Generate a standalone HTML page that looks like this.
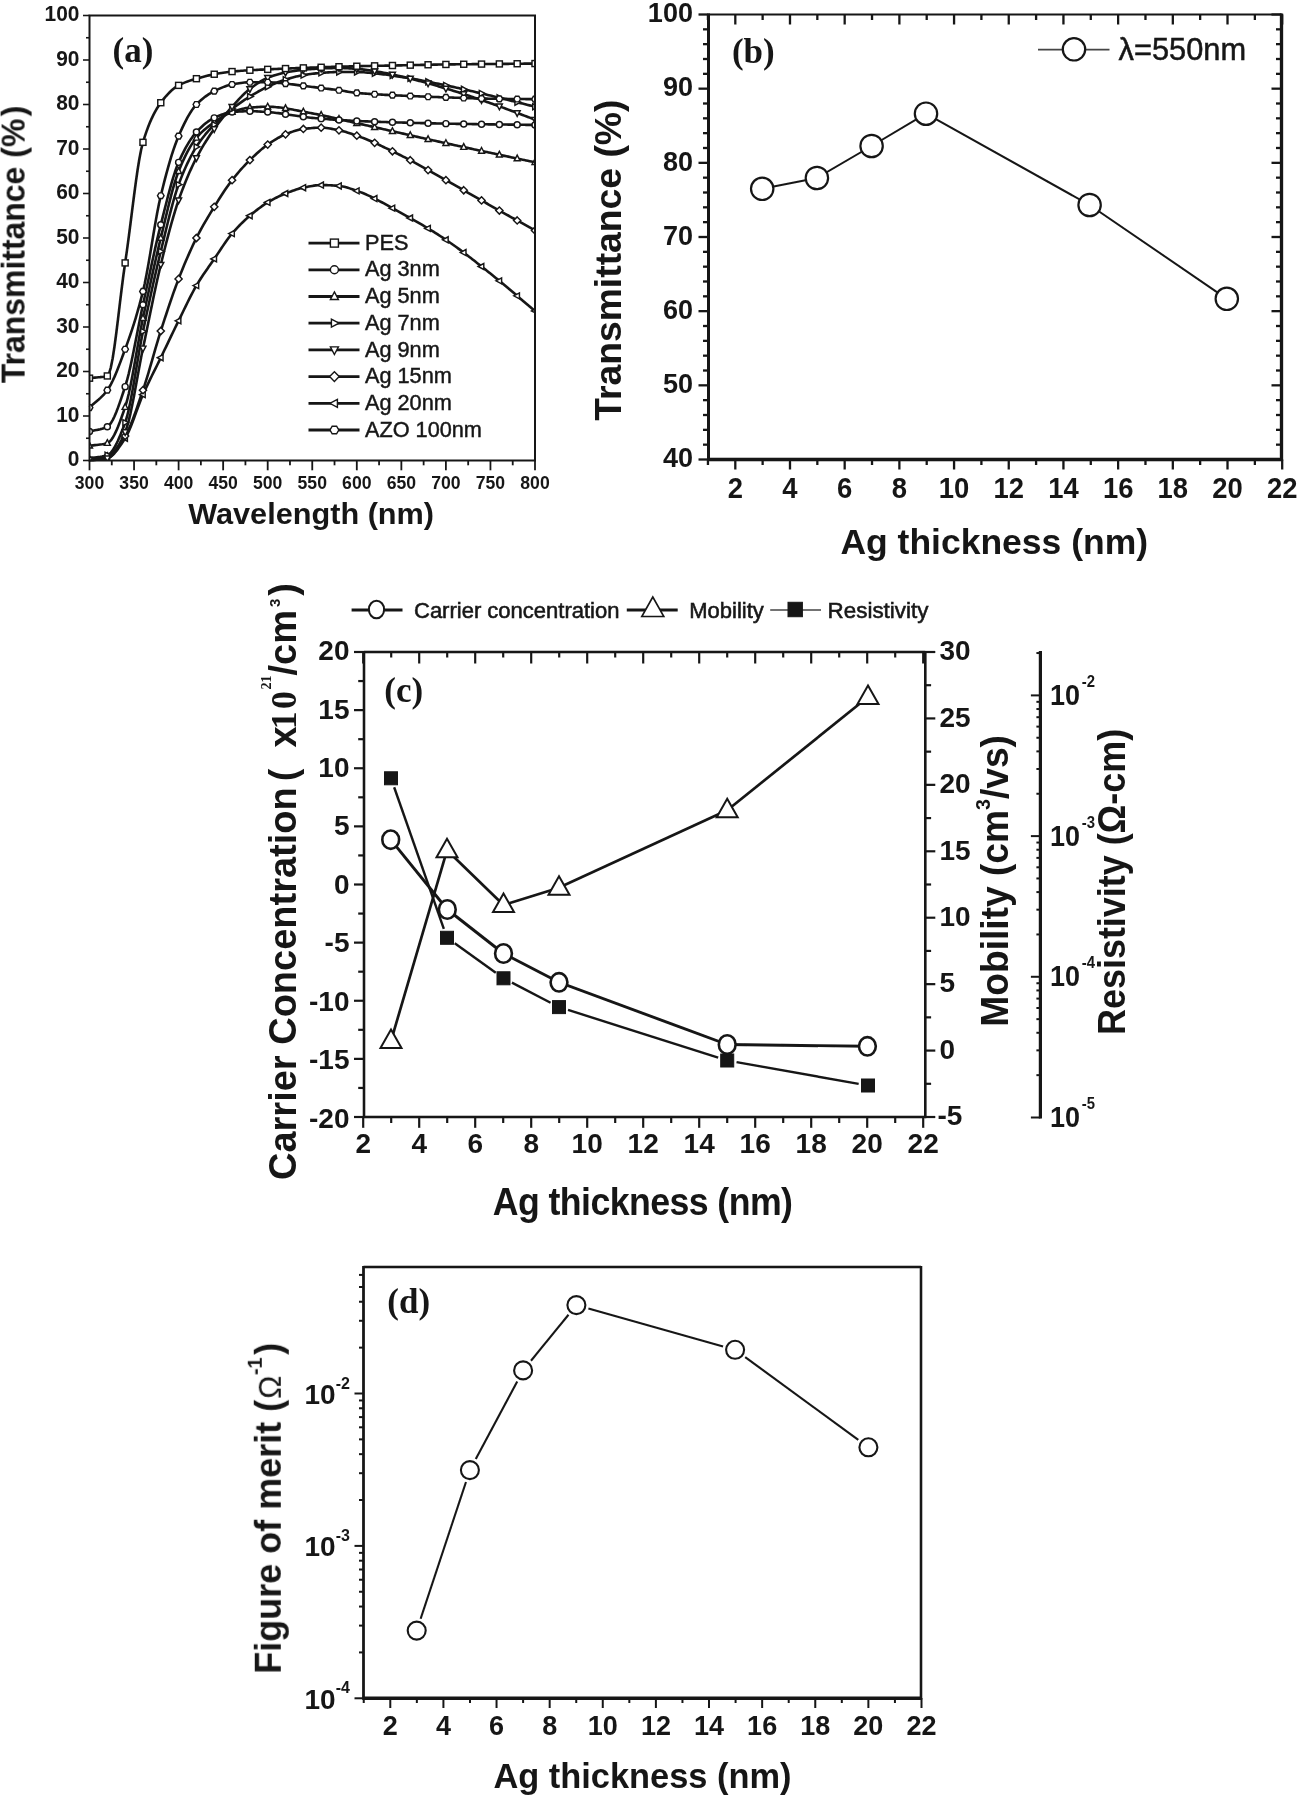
<!DOCTYPE html>
<html lang="en"><head><meta charset="utf-8"><title>Figure</title>
<style>
html,body{margin:0;padding:0;background:#fff;}
body{width:1297px;height:1800px;overflow:hidden;}
svg{display:block;}
</style></head>
<body>
<svg width="1297" height="1800" viewBox="0 0 1297 1800">
<defs><filter id="soft" x="0" y="0" width="1297" height="1800" filterUnits="userSpaceOnUse"><feGaussianBlur stdDeviation="0.6"/></filter></defs>
<rect width="1297" height="1800" fill="#fff"/>
<g id="fig" filter="url(#soft)">
<g id="panel-a">
<polyline points="89.50,460.50 91.28,460.29 93.06,460.11 94.85,459.94 96.63,459.78 98.41,459.61 100.19,459.42 101.97,459.20 103.76,458.95 105.54,458.64 107.32,458.27 109.10,457.64 110.88,456.56 112.67,455.09 114.45,453.28 116.23,451.19 118.01,448.87 119.79,446.36 121.58,443.72 123.36,441.00 125.14,438.25 126.92,435.17 128.70,431.48 130.49,427.32 132.27,422.79 134.05,418.01 135.83,413.12 137.61,408.21 139.40,403.42 141.18,398.85 142.96,394.64 144.74,390.70 146.52,386.86 148.31,383.11 150.09,379.43 151.87,375.79 153.65,372.19 155.43,368.59 157.22,364.99 159.00,361.37 160.78,357.70 162.56,354.00 164.34,350.29 166.13,346.57 167.91,342.84 169.69,339.12 171.47,335.41 173.25,331.72 175.04,328.04 176.82,324.39 178.60,320.77 180.38,317.14 182.16,313.47 183.95,309.79 185.73,306.12 187.51,302.48 189.29,298.90 191.07,295.40 192.86,292.00 194.64,288.73 196.42,285.62 198.20,282.64 199.98,279.79 201.77,277.03 203.55,274.34 205.33,271.72 207.11,269.15 208.89,266.59 210.68,264.05 212.46,261.50 214.24,258.91 216.02,256.29 217.80,253.62 219.59,250.93 221.37,248.25 223.15,245.60 224.93,242.99 226.71,240.47 228.50,238.03 230.28,235.72 232.06,233.55 233.84,231.49 235.62,229.51 237.41,227.59 239.19,225.74 240.97,223.94 242.75,222.20 244.53,220.52 246.32,218.88 248.10,217.30 249.88,215.75 251.66,214.24 253.44,212.75 255.23,211.30 257.01,209.88 258.79,208.50 260.57,207.17 262.35,205.89 264.14,204.67 265.92,203.50 267.70,202.40 269.48,201.35 271.26,200.33 273.05,199.35 274.83,198.40 276.61,197.49 278.39,196.62 280.17,195.78 281.96,194.98 283.74,194.22 285.52,193.50 287.30,192.80 289.08,192.12 290.87,191.45 292.65,190.80 294.43,190.19 296.21,189.60 297.99,189.06 299.78,188.56 301.56,188.11 303.34,187.71 305.12,187.34 306.90,186.97 308.69,186.60 310.47,186.25 312.25,185.92 314.03,185.63 315.81,185.39 317.60,185.21 319.38,185.09 321.16,185.05 322.94,185.06 324.72,185.09 326.51,185.14 328.29,185.21 330.07,185.30 331.85,185.40 333.63,185.52 335.42,185.65 337.20,185.79 338.98,185.94 340.76,186.14 342.54,186.44 344.33,186.83 346.11,187.29 347.89,187.81 349.67,188.38 351.45,188.98 353.24,189.59 355.02,190.22 356.80,190.83 358.58,191.46 360.36,192.12 362.15,192.82 363.93,193.55 365.71,194.31 367.49,195.10 369.27,195.92 371.06,196.76 372.84,197.63 374.62,198.52 376.40,199.42 378.18,200.35 379.97,201.29 381.75,202.24 383.53,203.21 385.31,204.18 387.09,205.17 388.88,206.16 390.66,207.15 392.44,208.14 394.22,209.14 396.00,210.13 397.79,211.12 399.57,212.10 401.35,213.08 403.13,214.05 404.91,215.03 406.70,216.02 408.48,217.01 410.26,218.01 412.04,219.01 413.82,220.03 415.61,221.05 417.39,222.07 419.17,223.11 420.95,224.15 422.73,225.20 424.52,226.27 426.30,227.34 428.08,228.41 429.86,229.50 431.64,230.60 433.43,231.71 435.21,232.83 436.99,233.96 438.77,235.10 440.55,236.25 442.34,237.42 444.12,238.59 445.90,239.78 447.68,240.98 449.46,242.21 451.25,243.45 453.03,244.71 454.81,245.98 456.59,247.27 458.37,248.58 460.16,249.90 461.94,251.23 463.72,252.57 465.50,253.93 467.28,255.29 469.07,256.67 470.85,258.05 472.63,259.45 474.41,260.85 476.19,262.25 477.98,263.66 479.76,265.07 481.54,266.49 483.32,267.91 485.10,269.33 486.89,270.76 488.67,272.18 490.45,273.60 492.23,275.03 494.01,276.46 495.80,277.91 497.58,279.37 499.36,280.84 501.14,282.31 502.92,283.80 504.71,285.29 506.49,286.78 508.27,288.28 510.05,289.79 511.83,291.30 513.62,292.81 515.40,294.33 517.18,295.85 518.96,297.37 520.74,298.89 522.53,300.41 524.31,301.93 526.09,303.44 527.87,304.96 529.65,306.47 531.44,307.98 533.22,309.48 535.00,310.98" fill="none" stroke="#161616" stroke-width="2.6" stroke-linejoin="round" />
<polyline points="89.50,459.61 91.28,459.28 93.06,458.98 94.85,458.70 96.63,458.42 98.41,458.14 100.19,457.83 101.97,457.48 103.76,457.08 105.54,456.61 107.32,456.05 109.10,455.25 110.88,454.09 112.67,452.59 114.45,450.81 116.23,448.77 118.01,446.51 119.79,444.07 121.58,441.48 123.36,438.79 125.14,436.02 126.92,432.95 128.70,429.34 130.49,425.28 132.27,420.84 134.05,416.08 135.83,411.09 137.61,405.93 139.40,400.68 141.18,395.41 142.96,390.19 144.74,384.85 146.52,379.19 148.31,373.30 150.09,367.24 151.87,361.06 153.65,354.86 155.43,348.68 157.22,342.60 159.00,336.68 160.78,331.00 162.56,325.47 164.34,319.97 166.13,314.50 167.91,309.10 169.69,303.78 171.47,298.55 173.25,293.43 175.04,288.45 176.82,283.61 178.60,278.94 180.38,274.40 182.16,269.95 183.95,265.59 185.73,261.33 187.51,257.16 189.29,253.11 191.07,249.16 192.86,245.32 194.64,241.60 196.42,238.00 198.20,234.52 199.98,231.15 201.77,227.88 203.55,224.70 205.33,221.60 207.11,218.56 208.89,215.58 210.68,212.64 212.46,209.73 214.24,206.85 216.02,203.98 217.80,201.13 219.59,198.30 221.37,195.51 223.15,192.77 224.93,190.08 226.71,187.47 228.50,184.94 230.28,182.49 232.06,180.15 233.84,177.89 235.62,175.70 237.41,173.56 239.19,171.49 240.97,169.47 242.75,167.50 244.53,165.58 246.32,163.72 248.10,161.90 249.88,160.12 251.66,158.38 253.44,156.66 255.23,154.96 257.01,153.31 258.79,151.69 260.57,150.13 262.35,148.63 264.14,147.19 265.92,145.83 267.70,144.55 269.48,143.33 271.26,142.13 273.05,140.97 274.83,139.84 276.61,138.77 278.39,137.74 280.17,136.78 281.96,135.88 283.74,135.06 285.52,134.31 287.30,133.62 289.08,132.93 290.87,132.26 292.65,131.63 294.43,131.03 296.21,130.49 297.99,130.00 299.78,129.58 301.56,129.23 303.34,128.98 305.12,128.76 306.90,128.56 308.69,128.37 310.47,128.20 312.25,128.04 314.03,127.90 315.81,127.79 317.60,127.71 319.38,127.66 321.16,127.64 322.94,127.68 324.72,127.80 326.51,127.99 328.29,128.24 330.07,128.53 331.85,128.86 333.63,129.21 335.42,129.58 337.20,129.95 338.98,130.31 340.76,130.69 342.54,131.12 344.33,131.59 346.11,132.10 347.89,132.65 349.67,133.21 351.45,133.81 353.24,134.41 355.02,135.03 356.80,135.65 358.58,136.28 360.36,136.94 362.15,137.61 363.93,138.31 365.71,139.02 367.49,139.75 369.27,140.50 371.06,141.26 372.84,142.04 374.62,142.83 376.40,143.63 378.18,144.44 379.97,145.27 381.75,146.11 383.53,146.95 385.31,147.80 387.09,148.66 388.88,149.53 390.66,150.40 392.44,151.27 394.22,152.15 396.00,153.03 397.79,153.91 399.57,154.79 401.35,155.68 403.13,156.56 404.91,157.46 406.70,158.38 408.48,159.31 410.26,160.24 412.04,161.19 413.82,162.15 415.61,163.11 417.39,164.09 419.17,165.07 420.95,166.06 422.73,167.05 424.52,168.05 426.30,169.06 428.08,170.06 429.86,171.07 431.64,172.08 433.43,173.10 435.21,174.11 436.99,175.12 438.77,176.13 440.55,177.14 442.34,178.15 444.12,179.15 445.90,180.15 447.68,181.15 449.46,182.15 451.25,183.15 453.03,184.16 454.81,185.17 456.59,186.18 458.37,187.20 460.16,188.22 461.94,189.23 463.72,190.25 465.50,191.27 467.28,192.29 469.07,193.31 470.85,194.34 472.63,195.36 474.41,196.38 476.19,197.40 477.98,198.42 479.76,199.44 481.54,200.46 483.32,201.47 485.10,202.49 486.89,203.50 488.67,204.51 490.45,205.51 492.23,206.52 494.01,207.52 495.80,208.53 497.58,209.53 499.36,210.53 501.14,211.53 502.92,212.52 504.71,213.52 506.49,214.52 508.27,215.51 510.05,216.51 511.83,217.51 513.62,218.50 515.40,219.49 517.18,220.49 518.96,221.48 520.74,222.48 522.53,223.47 524.31,224.46 526.09,225.46 527.87,226.45 529.65,227.45 531.44,228.44 533.22,229.44 535.00,230.44" fill="none" stroke="#161616" stroke-width="2.6" stroke-linejoin="round" />
<polyline points="89.50,445.81 91.28,445.57 93.06,445.35 94.85,445.16 96.63,444.97 98.41,444.77 100.19,444.54 101.97,444.28 103.76,443.97 105.54,443.60 107.32,443.14 109.10,442.19 110.88,440.40 112.67,437.86 114.45,434.67 116.23,430.91 118.01,426.70 119.79,422.12 121.58,417.26 123.36,412.22 125.14,407.10 126.92,401.21 128.70,393.97 130.49,385.65 132.27,376.48 134.05,366.73 135.83,356.64 137.61,346.49 139.40,336.51 141.18,326.96 142.96,318.10 144.74,309.68 146.52,301.31 148.31,292.99 150.09,284.75 151.87,276.61 153.65,268.59 155.43,260.69 157.22,252.95 159.00,245.38 160.78,238.00 162.56,230.63 164.34,223.16 166.13,215.68 167.91,208.29 169.69,201.09 171.47,194.16 173.25,187.62 175.04,181.56 176.82,176.07 178.60,171.25 180.38,166.90 182.16,162.76 183.95,158.84 185.73,155.13 187.51,151.65 189.29,148.41 191.07,145.40 192.86,142.64 194.64,140.13 196.42,137.88 198.20,135.83 199.98,133.93 201.77,132.17 203.55,130.52 205.33,128.98 207.11,127.52 208.89,126.14 210.68,124.82 212.46,123.55 214.24,122.30 216.02,121.07 217.80,119.85 219.59,118.66 221.37,117.51 223.15,116.41 224.93,115.38 226.71,114.41 228.50,113.53 230.28,112.74 232.06,112.06 233.84,111.45 235.62,110.86 237.41,110.29 239.19,109.75 240.97,109.25 242.75,108.80 244.53,108.40 246.32,108.07 248.10,107.80 249.88,107.62 251.66,107.47 253.44,107.33 255.23,107.20 257.01,107.09 258.79,106.98 260.57,106.90 262.35,106.82 264.14,106.77 265.92,106.74 267.70,106.73 269.48,106.74 271.26,106.80 273.05,106.89 274.83,107.01 276.61,107.17 278.39,107.35 280.17,107.55 281.96,107.79 283.74,108.04 285.52,108.31 287.30,108.60 289.08,108.91 290.87,109.23 292.65,109.57 294.43,109.91 296.21,110.26 297.99,110.61 299.78,110.97 301.56,111.33 303.34,111.69 305.12,112.05 306.90,112.40 308.69,112.74 310.47,113.08 312.25,113.40 314.03,113.72 315.81,114.06 317.60,114.40 319.38,114.76 321.16,115.12 322.94,115.49 324.72,115.87 326.51,116.25 328.29,116.64 330.07,117.04 331.85,117.44 333.63,117.85 335.42,118.26 337.20,118.67 338.98,119.08 340.76,119.50 342.54,119.91 344.33,120.33 346.11,120.75 347.89,121.16 349.67,121.57 351.45,121.98 353.24,122.39 355.02,122.79 356.80,123.19 358.58,123.59 360.36,123.98 362.15,124.38 363.93,124.78 365.71,125.18 367.49,125.58 369.27,125.98 371.06,126.38 372.84,126.78 374.62,127.18 376.40,127.58 378.18,127.98 379.97,128.38 381.75,128.79 383.53,129.19 385.31,129.59 387.09,130.00 388.88,130.40 390.66,130.80 392.44,131.21 394.22,131.61 396.00,132.02 397.79,132.42 399.57,132.82 401.35,133.23 403.13,133.63 404.91,134.04 406.70,134.44 408.48,134.84 410.26,135.25 412.04,135.65 413.82,136.05 415.61,136.45 417.39,136.86 419.17,137.26 420.95,137.66 422.73,138.06 424.52,138.46 426.30,138.86 428.08,139.26 429.86,139.66 431.64,140.06 433.43,140.45 435.21,140.85 436.99,141.25 438.77,141.64 440.55,142.04 442.34,142.43 444.12,142.82 445.90,143.21 447.68,143.61 449.46,144.00 451.25,144.39 453.03,144.78 454.81,145.16 456.59,145.55 458.37,145.94 460.16,146.33 461.94,146.71 463.72,147.10 465.50,147.48 467.28,147.87 469.07,148.25 470.85,148.64 472.63,149.02 474.41,149.40 476.19,149.79 477.98,150.17 479.76,150.55 481.54,150.93 483.32,151.31 485.10,151.69 486.89,152.08 488.67,152.46 490.45,152.84 492.23,153.22 494.01,153.60 495.80,153.98 497.58,154.36 499.36,154.74 501.14,155.12 502.92,155.50 504.71,155.88 506.49,156.26 508.27,156.64 510.05,157.02 511.83,157.40 513.62,157.78 515.40,158.16 517.18,158.54 518.96,158.92 520.74,159.30 522.53,159.68 524.31,160.06 526.09,160.44 527.87,160.82 529.65,161.20 531.44,161.59 533.22,161.97 535.00,162.35" fill="none" stroke="#161616" stroke-width="2.6" stroke-linejoin="round" />
<polyline points="89.50,431.57 91.28,431.12 93.06,430.72 94.85,430.35 96.63,429.98 98.41,429.61 100.19,429.19 101.97,428.71 103.76,428.15 105.54,427.48 107.32,426.68 109.10,425.34 110.88,423.12 112.67,420.14 114.45,416.49 116.23,412.29 118.01,407.64 119.79,402.64 121.58,397.40 123.36,392.03 125.14,386.63 126.92,380.71 128.70,373.82 130.49,366.14 132.27,357.84 134.05,349.09 135.83,340.07 137.61,330.95 139.40,321.91 141.18,313.12 142.96,304.75 144.74,296.58 146.52,288.30 148.31,279.96 150.09,271.62 151.87,263.34 153.65,255.16 155.43,247.15 157.22,239.36 159.00,231.84 160.78,224.65 162.56,217.60 164.34,210.50 166.13,203.46 167.91,196.54 169.69,189.83 171.47,183.42 173.25,177.38 175.04,171.80 176.82,166.76 178.60,162.35 180.38,158.38 182.16,154.61 183.95,151.05 185.73,147.69 187.51,144.55 189.29,141.62 191.07,138.91 192.86,136.41 194.64,134.14 196.42,132.09 198.20,130.20 199.98,128.39 201.77,126.69 203.55,125.08 205.33,123.58 207.11,122.19 208.89,120.92 210.68,119.76 212.46,118.74 214.24,117.85 216.02,117.04 217.80,116.24 219.59,115.49 221.37,114.78 223.15,114.12 224.93,113.53 226.71,113.02 228.50,112.60 230.28,112.28 232.06,112.06 233.84,111.92 235.62,111.77 237.41,111.65 239.19,111.53 240.97,111.43 242.75,111.34 244.53,111.27 246.32,111.22 248.10,111.19 249.88,111.18 251.66,111.19 253.44,111.23 255.23,111.29 257.01,111.37 258.79,111.47 260.57,111.58 262.35,111.70 264.14,111.82 265.92,111.94 267.70,112.06 269.48,112.20 271.26,112.35 273.05,112.52 274.83,112.72 276.61,112.92 278.39,113.15 280.17,113.38 281.96,113.63 283.74,113.88 285.52,114.15 287.30,114.42 289.08,114.69 290.87,114.97 292.65,115.24 294.43,115.52 296.21,115.79 297.99,116.06 299.78,116.33 301.56,116.58 303.34,116.83 305.12,117.06 306.90,117.28 308.69,117.49 310.47,117.68 312.25,117.85 314.03,118.01 315.81,118.17 317.60,118.33 319.38,118.48 321.16,118.63 322.94,118.78 324.72,118.92 326.51,119.07 328.29,119.21 330.07,119.34 331.85,119.48 333.63,119.61 335.42,119.73 337.20,119.86 338.98,119.98 340.76,120.09 342.54,120.20 344.33,120.31 346.11,120.42 347.89,120.52 349.67,120.62 351.45,120.71 353.24,120.80 355.02,120.88 356.80,120.96 358.58,121.04 360.36,121.12 362.15,121.19 363.93,121.27 365.71,121.34 367.49,121.41 369.27,121.48 371.06,121.55 372.84,121.62 374.62,121.69 376.40,121.75 378.18,121.82 379.97,121.88 381.75,121.94 383.53,122.00 385.31,122.07 387.09,122.12 388.88,122.18 390.66,122.24 392.44,122.30 394.22,122.35 396.00,122.41 397.79,122.46 399.57,122.51 401.35,122.57 403.13,122.62 404.91,122.67 406.70,122.72 408.48,122.77 410.26,122.81 412.04,122.86 413.82,122.91 415.61,122.95 417.39,123.00 419.17,123.04 420.95,123.09 422.73,123.13 424.52,123.17 426.30,123.21 428.08,123.25 429.86,123.30 431.64,123.33 433.43,123.37 435.21,123.41 436.99,123.45 438.77,123.49 440.55,123.53 442.34,123.56 444.12,123.60 445.90,123.63 447.68,123.67 449.46,123.70 451.25,123.74 453.03,123.77 454.81,123.80 456.59,123.84 458.37,123.87 460.16,123.90 461.94,123.93 463.72,123.96 465.50,123.99 467.28,124.02 469.07,124.05 470.85,124.07 472.63,124.10 474.41,124.13 476.19,124.15 477.98,124.18 479.76,124.21 481.54,124.23 483.32,124.26 485.10,124.28 486.89,124.31 488.67,124.33 490.45,124.36 492.23,124.38 494.01,124.41 495.80,124.43 497.58,124.45 499.36,124.48 501.14,124.50 502.92,124.53 504.71,124.55 506.49,124.57 508.27,124.60 510.05,124.62 511.83,124.65 513.62,124.67 515.40,124.69 517.18,124.72 518.96,124.74 520.74,124.77 522.53,124.79 524.31,124.82 526.09,124.84 527.87,124.87 529.65,124.89 531.44,124.92 533.22,124.94 535.00,124.97" fill="none" stroke="#161616" stroke-width="2.6" stroke-linejoin="round" />
<polyline points="89.50,458.27 91.28,457.99 93.06,457.73 94.85,457.50 96.63,457.28 98.41,457.04 100.19,456.78 101.97,456.47 103.76,456.11 105.54,455.68 107.32,455.16 109.10,454.22 110.88,452.59 112.67,450.33 114.45,447.51 116.23,444.20 118.01,440.46 119.79,436.38 121.58,432.00 123.36,427.41 125.14,422.68 126.92,417.01 128.70,409.78 130.49,401.30 132.27,391.85 134.05,381.74 135.83,371.25 137.61,360.68 139.40,350.32 141.18,340.48 142.96,331.45 144.74,322.95 146.52,314.53 148.31,306.20 150.09,297.96 151.87,289.84 153.65,281.84 155.43,273.98 157.22,266.27 159.00,258.72 160.78,251.35 162.56,244.02 164.34,236.63 166.13,229.27 167.91,222.00 169.69,214.91 171.47,208.06 173.25,201.53 175.04,195.39 176.82,189.72 178.60,184.60 180.38,179.88 182.16,175.38 183.95,171.10 185.73,167.02 187.51,163.15 189.29,159.49 191.07,156.02 192.86,152.75 194.64,149.67 196.42,146.77 198.20,144.05 199.98,141.46 201.77,139.00 203.55,136.67 205.33,134.44 207.11,132.31 208.89,130.26 210.68,128.29 212.46,126.38 214.24,124.52 216.02,122.73 217.80,121.00 219.59,119.34 221.37,117.73 223.15,116.18 224.93,114.67 226.71,113.19 228.50,111.76 230.28,110.34 232.06,108.95 233.84,107.58 235.62,106.23 237.41,104.91 239.19,103.62 240.97,102.36 242.75,101.13 244.53,99.92 246.32,98.75 248.10,97.60 249.88,96.49 251.66,95.40 253.44,94.33 255.23,93.28 257.01,92.26 258.79,91.25 260.57,90.28 262.35,89.34 264.14,88.42 265.92,87.54 267.70,86.70 269.48,85.88 271.26,85.08 273.05,84.30 274.83,83.53 276.61,82.79 278.39,82.08 280.17,81.40 281.96,80.76 283.74,80.15 285.52,79.58 287.30,79.04 289.08,78.51 290.87,78.00 292.65,77.51 294.43,77.04 296.21,76.60 297.99,76.18 299.78,75.80 301.56,75.45 303.34,75.13 305.12,74.84 306.90,74.56 308.69,74.29 310.47,74.04 312.25,73.81 314.03,73.59 315.81,73.39 317.60,73.20 319.38,73.04 321.16,72.90 322.94,72.78 324.72,72.65 326.51,72.53 328.29,72.41 330.07,72.30 331.85,72.21 333.63,72.13 335.42,72.07 337.20,72.03 338.98,72.01 340.76,72.01 342.54,72.01 344.33,72.01 346.11,72.01 347.89,72.01 349.67,72.01 351.45,72.01 353.24,72.01 355.02,72.01 356.80,72.01 358.58,72.04 360.36,72.10 362.15,72.20 363.93,72.32 365.71,72.47 367.49,72.64 369.27,72.82 371.06,73.00 372.84,73.18 374.62,73.35 376.40,73.52 378.18,73.71 379.97,73.91 381.75,74.12 383.53,74.34 385.31,74.57 387.09,74.81 388.88,75.05 390.66,75.30 392.44,75.56 394.22,75.83 396.00,76.09 397.79,76.36 399.57,76.64 401.35,76.91 403.13,77.19 404.91,77.47 406.70,77.77 408.48,78.07 410.26,78.37 412.04,78.68 413.82,79.00 415.61,79.33 417.39,79.65 419.17,79.99 420.95,80.32 422.73,80.67 424.52,81.01 426.30,81.36 428.08,81.72 429.86,82.07 431.64,82.43 433.43,82.79 435.21,83.15 436.99,83.52 438.77,83.89 440.55,84.26 442.34,84.62 444.12,84.99 445.90,85.37 447.68,85.74 449.46,86.12 451.25,86.50 453.03,86.88 454.81,87.27 456.59,87.67 458.37,88.07 460.16,88.47 461.94,88.87 463.72,89.28 465.50,89.69 467.28,90.10 469.07,90.52 470.85,90.93 472.63,91.35 474.41,91.77 476.19,92.19 477.98,92.62 479.76,93.04 481.54,93.47 483.32,93.89 485.10,94.32 486.89,94.75 488.67,95.17 490.45,95.60 492.23,96.03 494.01,96.46 495.80,96.89 497.58,97.33 499.36,97.77 501.14,98.21 502.92,98.65 504.71,99.09 506.49,99.54 508.27,99.98 510.05,100.43 511.83,100.88 513.62,101.33 515.40,101.78 517.18,102.23 518.96,102.68 520.74,103.13 522.53,103.58 524.31,104.03 526.09,104.49 527.87,104.94 529.65,105.38 531.44,105.83 533.22,106.28 535.00,106.73" fill="none" stroke="#161616" stroke-width="2.6" stroke-linejoin="round" />
<polyline points="89.50,459.61 91.28,459.49 93.06,459.38 94.85,459.29 96.63,459.19 98.41,459.09 100.19,458.98 101.97,458.85 103.76,458.70 105.54,458.51 107.32,458.27 109.10,457.69 110.88,456.50 112.67,454.75 114.45,452.50 116.23,449.83 118.01,446.77 119.79,443.41 121.58,439.79 123.36,435.97 125.14,432.02 126.92,427.19 128.70,420.88 130.49,413.34 132.27,404.85 134.05,395.65 135.83,386.02 137.61,376.21 139.40,366.49 141.18,357.12 142.96,348.36 144.74,339.90 146.52,331.28 148.31,322.58 150.09,313.86 151.87,305.18 153.65,296.61 155.43,288.21 157.22,280.05 159.00,272.19 160.78,264.70 162.56,257.45 164.34,250.30 166.13,243.27 167.91,236.40 169.69,229.72 171.47,223.25 173.25,217.03 175.04,211.09 176.82,205.46 178.60,200.18 180.38,195.16 182.16,190.34 183.95,185.70 185.73,181.24 187.51,176.95 189.29,172.82 191.07,168.86 192.86,165.06 194.64,161.41 196.42,157.90 198.20,154.53 199.98,151.30 201.77,148.19 203.55,145.19 205.33,142.29 207.11,139.48 208.89,136.76 210.68,134.10 212.46,131.51 214.24,128.98 216.02,126.49 217.80,124.07 219.59,121.72 221.37,119.42 223.15,117.18 224.93,114.99 226.71,112.85 228.50,110.77 230.28,108.72 232.06,106.73 233.84,104.75 235.62,102.78 237.41,100.84 239.19,98.93 240.97,97.06 242.75,95.26 244.53,93.54 246.32,91.90 248.10,90.35 249.88,88.93 251.66,87.57 253.44,86.25 255.23,84.96 257.01,83.73 258.79,82.55 260.57,81.44 262.35,80.40 264.14,79.44 265.92,78.57 267.70,77.80 269.48,77.10 271.26,76.43 273.05,75.81 274.83,75.22 276.61,74.67 278.39,74.16 280.17,73.68 281.96,73.24 283.74,72.83 285.52,72.46 287.30,72.11 289.08,71.78 290.87,71.47 292.65,71.18 294.43,70.90 296.21,70.64 297.99,70.40 299.78,70.18 301.56,69.98 303.34,69.79 305.12,69.61 306.90,69.44 308.69,69.28 310.47,69.13 312.25,68.98 314.03,68.85 315.81,68.73 317.60,68.62 319.38,68.53 321.16,68.45 322.94,68.39 324.72,68.32 326.51,68.26 328.29,68.20 330.07,68.15 331.85,68.10 333.63,68.06 335.42,68.03 337.20,68.02 338.98,68.01 340.76,68.02 342.54,68.06 344.33,68.12 346.11,68.20 347.89,68.30 349.67,68.40 351.45,68.52 353.24,68.64 355.02,68.77 356.80,68.90 358.58,69.04 360.36,69.21 362.15,69.40 363.93,69.61 365.71,69.83 367.49,70.08 369.27,70.33 371.06,70.59 372.84,70.86 374.62,71.12 376.40,71.40 378.18,71.70 379.97,72.00 381.75,72.33 383.53,72.66 385.31,73.01 387.09,73.36 388.88,73.73 390.66,74.10 392.44,74.48 394.22,74.87 396.00,75.26 397.79,75.66 399.57,76.06 401.35,76.46 403.13,76.87 404.91,77.29 406.70,77.71 408.48,78.15 410.26,78.58 412.04,79.03 413.82,79.48 415.61,79.94 417.39,80.41 419.17,80.88 420.95,81.36 422.73,81.84 424.52,82.33 426.30,82.82 428.08,83.32 429.86,83.82 431.64,84.32 433.43,84.83 435.21,85.35 436.99,85.86 438.77,86.38 440.55,86.90 442.34,87.43 444.12,87.95 445.90,88.48 447.68,89.01 449.46,89.55 451.25,90.10 453.03,90.65 454.81,91.20 456.59,91.76 458.37,92.33 460.16,92.90 461.94,93.48 463.72,94.06 465.50,94.65 467.28,95.24 469.07,95.83 470.85,96.43 472.63,97.03 474.41,97.63 476.19,98.24 477.98,98.85 479.76,99.46 481.54,100.07 483.32,100.69 485.10,101.31 486.89,101.92 488.67,102.54 490.45,103.17 492.23,103.79 494.01,104.42 495.80,105.05 497.58,105.69 499.36,106.34 501.14,106.99 502.92,107.64 504.71,108.29 506.49,108.95 508.27,109.62 510.05,110.28 511.83,110.95 513.62,111.61 515.40,112.28 517.18,112.95 518.96,113.62 520.74,114.30 522.53,114.97 524.31,115.64 526.09,116.31 527.87,116.98 529.65,117.64 531.44,118.31 533.22,118.97 535.00,119.63" fill="none" stroke="#161616" stroke-width="2.6" stroke-linejoin="round" />
<polyline points="89.50,407.55 91.28,405.87 93.06,404.30 94.85,402.78 96.63,401.28 98.41,399.75 100.19,398.14 101.97,396.43 103.76,394.56 105.54,392.49 107.32,390.19 109.10,387.50 110.88,384.35 112.67,380.78 114.45,376.87 116.23,372.67 118.01,368.23 119.79,363.61 121.58,358.87 123.36,354.06 125.14,349.25 126.92,344.40 128.70,339.40 130.49,334.25 132.27,328.90 134.05,323.34 135.83,317.54 137.61,311.47 139.40,305.11 141.18,298.43 142.96,291.40 144.74,283.54 146.52,274.57 148.31,264.76 150.09,254.39 151.87,243.73 153.65,233.06 155.43,222.65 157.22,212.77 159.00,203.71 160.78,195.73 162.56,188.48 164.34,181.44 166.13,174.65 167.91,168.12 169.69,161.89 171.47,155.98 173.25,150.42 175.04,145.23 176.82,140.45 178.60,136.09 180.38,132.03 182.16,128.12 183.95,124.38 185.73,120.83 187.51,117.48 189.29,114.36 191.07,111.48 192.86,108.87 194.64,106.53 196.42,104.50 198.20,102.69 199.98,100.99 201.77,99.42 203.55,97.95 205.33,96.59 207.11,95.33 208.89,94.16 210.68,93.08 212.46,92.08 214.24,91.15 216.02,90.27 217.80,89.42 219.59,88.61 221.37,87.84 223.15,87.12 224.93,86.45 226.71,85.85 228.50,85.31 230.28,84.85 232.06,84.48 233.84,84.14 235.62,83.82 237.41,83.50 239.19,83.21 240.97,82.95 242.75,82.71 244.53,82.52 246.32,82.37 248.10,82.28 249.88,82.25 251.66,82.25 253.44,82.25 255.23,82.25 257.01,82.25 258.79,82.25 260.57,82.25 262.35,82.25 264.14,82.25 265.92,82.25 267.70,82.25 269.48,82.27 271.26,82.34 273.05,82.43 274.83,82.56 276.61,82.71 278.39,82.87 280.17,83.05 281.96,83.23 283.74,83.41 285.52,83.58 287.30,83.76 289.08,83.96 290.87,84.17 292.65,84.39 294.43,84.63 296.21,84.87 297.99,85.11 299.78,85.35 301.56,85.58 303.34,85.81 305.12,86.03 306.90,86.25 308.69,86.48 310.47,86.70 312.25,86.92 314.03,87.14 315.81,87.37 317.60,87.59 319.38,87.81 321.16,88.04 322.94,88.26 324.72,88.47 326.51,88.69 328.29,88.91 330.07,89.12 331.85,89.34 333.63,89.56 335.42,89.79 337.20,90.02 338.98,90.26 340.76,90.52 342.54,90.80 344.33,91.09 346.11,91.39 347.89,91.70 349.67,91.99 351.45,92.27 353.24,92.52 355.02,92.75 356.80,92.93 358.58,93.09 360.36,93.24 362.15,93.39 363.93,93.53 365.71,93.66 367.49,93.79 369.27,93.91 371.06,94.03 372.84,94.14 374.62,94.25 376.40,94.35 378.18,94.46 379.97,94.55 381.75,94.65 383.53,94.74 385.31,94.83 387.09,94.92 388.88,95.01 390.66,95.09 392.44,95.18 394.22,95.26 396.00,95.35 397.79,95.43 399.57,95.52 401.35,95.60 403.13,95.68 404.91,95.77 406.70,95.85 408.48,95.93 410.26,96.01 412.04,96.09 413.82,96.16 415.61,96.24 417.39,96.31 419.17,96.39 420.95,96.46 422.73,96.53 424.52,96.60 426.30,96.67 428.08,96.74 429.86,96.81 431.64,96.87 433.43,96.94 435.21,97.00 436.99,97.07 438.77,97.13 440.55,97.19 442.34,97.26 444.12,97.32 445.90,97.38 447.68,97.44 449.46,97.50 451.25,97.57 453.03,97.63 454.81,97.69 456.59,97.76 458.37,97.82 460.16,97.88 461.94,97.94 463.72,98.01 465.50,98.07 467.28,98.13 469.07,98.18 470.85,98.24 472.63,98.30 474.41,98.35 476.19,98.40 477.98,98.45 479.76,98.50 481.54,98.54 483.32,98.58 485.10,98.62 486.89,98.65 488.67,98.69 490.45,98.71 492.23,98.74 494.01,98.77 495.80,98.79 497.58,98.81 499.36,98.83 501.14,98.85 502.92,98.87 504.71,98.89 506.49,98.91 508.27,98.93 510.05,98.94 511.83,98.96 513.62,98.97 515.40,98.99 517.18,99.00 518.96,99.02 520.74,99.03 522.53,99.05 524.31,99.06 526.09,99.08 527.87,99.09 529.65,99.11 531.44,99.13 533.22,99.14 535.00,99.16" fill="none" stroke="#161616" stroke-width="2.6" stroke-linejoin="round" />
<polyline points="89.50,378.18 91.28,377.97 93.06,377.80 94.85,377.64 96.63,377.49 98.41,377.33 100.19,377.15 101.97,376.93 103.76,376.67 105.54,376.35 107.32,375.95 109.10,373.48 110.88,367.37 112.67,358.25 114.45,346.74 116.23,333.48 118.01,319.09 119.79,304.21 121.58,289.47 123.36,275.50 125.14,262.92 126.92,250.63 128.70,237.35 130.49,223.47 132.27,209.39 134.05,195.49 135.83,182.16 137.61,169.79 139.40,158.77 141.18,149.48 142.96,142.32 144.74,136.60 146.52,131.35 148.31,126.53 150.09,122.11 151.87,118.09 153.65,114.41 155.43,111.07 157.22,108.02 159.00,105.25 160.78,102.72 162.56,100.37 164.34,98.13 166.13,96.03 167.91,94.06 169.69,92.23 171.47,90.55 173.25,89.01 175.04,87.63 176.82,86.41 178.60,85.37 180.38,84.45 182.16,83.61 183.95,82.84 185.73,82.14 187.51,81.49 189.29,80.88 191.07,80.31 192.86,79.76 194.64,79.22 196.42,78.69 198.20,78.16 199.98,77.65 201.77,77.15 203.55,76.68 205.33,76.21 207.11,75.77 208.89,75.36 210.68,74.96 212.46,74.59 214.24,74.24 216.02,73.91 217.80,73.59 219.59,73.28 221.37,72.99 223.15,72.71 224.93,72.45 226.71,72.20 228.50,71.97 230.28,71.76 232.06,71.57 233.84,71.40 235.62,71.24 237.41,71.09 239.19,70.95 240.97,70.81 242.75,70.69 244.53,70.57 246.32,70.45 248.10,70.34 249.88,70.24 251.66,70.13 253.44,70.03 255.23,69.94 257.01,69.85 258.79,69.76 260.57,69.67 262.35,69.59 264.14,69.51 265.92,69.43 267.70,69.35 269.48,69.26 271.26,69.19 273.05,69.11 274.83,69.03 276.61,68.95 278.39,68.87 280.17,68.80 281.96,68.72 283.74,68.65 285.52,68.58 287.30,68.50 289.08,68.43 290.87,68.36 292.65,68.29 294.43,68.22 296.21,68.15 297.99,68.08 299.78,68.01 301.56,67.95 303.34,67.88 305.12,67.82 306.90,67.75 308.69,67.69 310.47,67.63 312.25,67.56 314.03,67.50 315.81,67.44 317.60,67.38 319.38,67.32 321.16,67.27 322.94,67.21 324.72,67.15 326.51,67.09 328.29,67.03 330.07,66.98 331.85,66.92 333.63,66.87 335.42,66.81 337.20,66.76 338.98,66.71 340.76,66.66 342.54,66.60 344.33,66.55 346.11,66.51 347.89,66.46 349.67,66.41 351.45,66.36 353.24,66.32 355.02,66.27 356.80,66.23 358.58,66.19 360.36,66.15 362.15,66.11 363.93,66.07 365.71,66.03 367.49,65.99 369.27,65.95 371.06,65.92 372.84,65.88 374.62,65.85 376.40,65.81 378.18,65.78 379.97,65.75 381.75,65.71 383.53,65.68 385.31,65.65 387.09,65.61 388.88,65.58 390.66,65.55 392.44,65.51 394.22,65.48 396.00,65.44 397.79,65.41 399.57,65.38 401.35,65.34 403.13,65.30 404.91,65.27 406.70,65.23 408.48,65.19 410.26,65.15 412.04,65.11 413.82,65.07 415.61,65.03 417.39,64.99 419.17,64.96 420.95,64.92 422.73,64.88 424.52,64.84 426.30,64.80 428.08,64.76 429.86,64.73 431.64,64.69 433.43,64.66 435.21,64.62 436.99,64.59 438.77,64.56 440.55,64.53 442.34,64.50 444.12,64.47 445.90,64.45 447.68,64.43 449.46,64.40 451.25,64.38 453.03,64.36 454.81,64.34 456.59,64.32 458.37,64.30 460.16,64.29 461.94,64.27 463.72,64.25 465.50,64.23 467.28,64.22 469.07,64.20 470.85,64.18 472.63,64.17 474.41,64.15 476.19,64.14 477.98,64.12 479.76,64.11 481.54,64.09 483.32,64.07 485.10,64.06 486.89,64.04 488.67,64.02 490.45,64.00 492.23,63.99 494.01,63.97 495.80,63.95 497.58,63.93 499.36,63.92 501.14,63.90 502.92,63.88 504.71,63.86 506.49,63.84 508.27,63.83 510.05,63.81 511.83,63.79 513.62,63.77 515.40,63.76 517.18,63.74 518.96,63.72 520.74,63.70 522.53,63.68 524.31,63.67 526.09,63.65 527.87,63.63 529.65,63.61 531.44,63.60 533.22,63.58 535.00,63.56" fill="none" stroke="#161616" stroke-width="2.6" stroke-linejoin="round" />
<clipPath id="clipA"><rect x="89.5" y="15.5" width="445.5" height="445.0"/></clipPath>
<g clip-path="url(#clipA)">
<polygon points="86.05,460.50 91.75,457.50 91.75,463.50" fill="#fff" stroke="#161616" stroke-width="1.45" stroke-linejoin="miter"/>
<polygon points="103.87,458.27 109.57,455.27 109.57,461.27" fill="#fff" stroke="#161616" stroke-width="1.45" stroke-linejoin="miter"/>
<polygon points="121.69,438.25 127.39,435.25 127.39,441.25" fill="#fff" stroke="#161616" stroke-width="1.45" stroke-linejoin="miter"/>
<polygon points="139.51,394.64 145.21,391.64 145.21,397.64" fill="#fff" stroke="#161616" stroke-width="1.45" stroke-linejoin="miter"/>
<polygon points="157.33,357.70 163.03,354.70 163.03,360.70" fill="#fff" stroke="#161616" stroke-width="1.45" stroke-linejoin="miter"/>
<polygon points="175.15,320.77 180.85,317.77 180.85,323.77" fill="#fff" stroke="#161616" stroke-width="1.45" stroke-linejoin="miter"/>
<polygon points="192.97,285.62 198.67,282.62 198.67,288.62" fill="#fff" stroke="#161616" stroke-width="1.45" stroke-linejoin="miter"/>
<polygon points="210.79,258.91 216.49,255.91 216.49,261.91" fill="#fff" stroke="#161616" stroke-width="1.45" stroke-linejoin="miter"/>
<polygon points="228.61,233.55 234.31,230.55 234.31,236.55" fill="#fff" stroke="#161616" stroke-width="1.45" stroke-linejoin="miter"/>
<polygon points="246.43,215.75 252.13,212.75 252.13,218.75" fill="#fff" stroke="#161616" stroke-width="1.45" stroke-linejoin="miter"/>
<polygon points="264.25,202.40 269.95,199.40 269.95,205.40" fill="#fff" stroke="#161616" stroke-width="1.45" stroke-linejoin="miter"/>
<polygon points="282.07,193.50 287.77,190.50 287.77,196.50" fill="#fff" stroke="#161616" stroke-width="1.45" stroke-linejoin="miter"/>
<polygon points="299.89,187.71 305.59,184.71 305.59,190.71" fill="#fff" stroke="#161616" stroke-width="1.45" stroke-linejoin="miter"/>
<polygon points="317.71,185.05 323.41,182.05 323.41,188.05" fill="#fff" stroke="#161616" stroke-width="1.45" stroke-linejoin="miter"/>
<polygon points="335.53,185.94 341.23,182.94 341.23,188.94" fill="#fff" stroke="#161616" stroke-width="1.45" stroke-linejoin="miter"/>
<polygon points="353.35,190.83 359.05,187.83 359.05,193.83" fill="#fff" stroke="#161616" stroke-width="1.45" stroke-linejoin="miter"/>
<polygon points="371.17,198.52 376.87,195.52 376.87,201.52" fill="#fff" stroke="#161616" stroke-width="1.45" stroke-linejoin="miter"/>
<polygon points="388.99,208.14 394.69,205.14 394.69,211.14" fill="#fff" stroke="#161616" stroke-width="1.45" stroke-linejoin="miter"/>
<polygon points="406.81,218.01 412.51,215.01 412.51,221.01" fill="#fff" stroke="#161616" stroke-width="1.45" stroke-linejoin="miter"/>
<polygon points="424.63,228.41 430.33,225.41 430.33,231.41" fill="#fff" stroke="#161616" stroke-width="1.45" stroke-linejoin="miter"/>
<polygon points="442.45,239.78 448.15,236.78 448.15,242.78" fill="#fff" stroke="#161616" stroke-width="1.45" stroke-linejoin="miter"/>
<polygon points="460.27,252.57 465.97,249.57 465.97,255.57" fill="#fff" stroke="#161616" stroke-width="1.45" stroke-linejoin="miter"/>
<polygon points="478.09,266.49 483.79,263.49 483.79,269.49" fill="#fff" stroke="#161616" stroke-width="1.45" stroke-linejoin="miter"/>
<polygon points="495.91,280.84 501.61,277.84 501.61,283.84" fill="#fff" stroke="#161616" stroke-width="1.45" stroke-linejoin="miter"/>
<polygon points="513.73,295.85 519.43,292.85 519.43,298.85" fill="#fff" stroke="#161616" stroke-width="1.45" stroke-linejoin="miter"/>
<polygon points="531.55,310.98 537.25,307.98 537.25,313.98" fill="#fff" stroke="#161616" stroke-width="1.45" stroke-linejoin="miter"/>
<polygon points="89.50,456.01 93.10,459.61 89.50,463.21 85.90,459.61" fill="#fff" stroke="#161616" stroke-width="1.45" stroke-linejoin="miter"/>
<polygon points="107.32,452.45 110.92,456.05 107.32,459.65 103.72,456.05" fill="#fff" stroke="#161616" stroke-width="1.45" stroke-linejoin="miter"/>
<polygon points="125.14,432.42 128.74,436.02 125.14,439.62 121.54,436.02" fill="#fff" stroke="#161616" stroke-width="1.45" stroke-linejoin="miter"/>
<polygon points="142.96,386.59 146.56,390.19 142.96,393.79 139.36,390.19" fill="#fff" stroke="#161616" stroke-width="1.45" stroke-linejoin="miter"/>
<polygon points="160.78,327.40 164.38,331.00 160.78,334.61 157.18,331.00" fill="#fff" stroke="#161616" stroke-width="1.45" stroke-linejoin="miter"/>
<polygon points="178.60,275.34 182.20,278.94 178.60,282.54 175.00,278.94" fill="#fff" stroke="#161616" stroke-width="1.45" stroke-linejoin="miter"/>
<polygon points="196.42,234.40 200.02,238.00 196.42,241.60 192.82,238.00" fill="#fff" stroke="#161616" stroke-width="1.45" stroke-linejoin="miter"/>
<polygon points="214.24,203.25 217.84,206.85 214.24,210.45 210.64,206.85" fill="#fff" stroke="#161616" stroke-width="1.45" stroke-linejoin="miter"/>
<polygon points="232.06,176.55 235.66,180.15 232.06,183.75 228.46,180.15" fill="#fff" stroke="#161616" stroke-width="1.45" stroke-linejoin="miter"/>
<polygon points="249.88,156.53 253.48,160.12 249.88,163.72 246.28,160.12" fill="#fff" stroke="#161616" stroke-width="1.45" stroke-linejoin="miter"/>
<polygon points="267.70,140.95 271.30,144.55 267.70,148.15 264.10,144.55" fill="#fff" stroke="#161616" stroke-width="1.45" stroke-linejoin="miter"/>
<polygon points="285.52,130.72 289.12,134.31 285.52,137.91 281.92,134.31" fill="#fff" stroke="#161616" stroke-width="1.45" stroke-linejoin="miter"/>
<polygon points="303.34,125.38 306.94,128.98 303.34,132.58 299.74,128.98" fill="#fff" stroke="#161616" stroke-width="1.45" stroke-linejoin="miter"/>
<polygon points="321.16,124.04 324.76,127.64 321.16,131.24 317.56,127.64" fill="#fff" stroke="#161616" stroke-width="1.45" stroke-linejoin="miter"/>
<polygon points="338.98,126.71 342.58,130.31 338.98,133.91 335.38,130.31" fill="#fff" stroke="#161616" stroke-width="1.45" stroke-linejoin="miter"/>
<polygon points="356.80,132.05 360.40,135.65 356.80,139.25 353.20,135.65" fill="#fff" stroke="#161616" stroke-width="1.45" stroke-linejoin="miter"/>
<polygon points="374.62,139.23 378.22,142.83 374.62,146.43 371.02,142.83" fill="#fff" stroke="#161616" stroke-width="1.45" stroke-linejoin="miter"/>
<polygon points="392.44,147.67 396.04,151.27 392.44,154.87 388.84,151.27" fill="#fff" stroke="#161616" stroke-width="1.45" stroke-linejoin="miter"/>
<polygon points="410.26,156.64 413.86,160.24 410.26,163.84 406.66,160.24" fill="#fff" stroke="#161616" stroke-width="1.45" stroke-linejoin="miter"/>
<polygon points="428.08,166.46 431.68,170.06 428.08,173.66 424.48,170.06" fill="#fff" stroke="#161616" stroke-width="1.45" stroke-linejoin="miter"/>
<polygon points="445.90,176.55 449.50,180.15 445.90,183.75 442.30,180.15" fill="#fff" stroke="#161616" stroke-width="1.45" stroke-linejoin="miter"/>
<polygon points="463.72,186.65 467.32,190.25 463.72,193.85 460.12,190.25" fill="#fff" stroke="#161616" stroke-width="1.45" stroke-linejoin="miter"/>
<polygon points="481.54,196.86 485.14,200.46 481.54,204.06 477.94,200.46" fill="#fff" stroke="#161616" stroke-width="1.45" stroke-linejoin="miter"/>
<polygon points="499.36,206.93 502.96,210.53 499.36,214.13 495.76,210.53" fill="#fff" stroke="#161616" stroke-width="1.45" stroke-linejoin="miter"/>
<polygon points="517.18,216.89 520.78,220.49 517.18,224.09 513.58,220.49" fill="#fff" stroke="#161616" stroke-width="1.45" stroke-linejoin="miter"/>
<polygon points="535.00,226.84 538.60,230.44 535.00,234.03 531.40,230.44" fill="#fff" stroke="#161616" stroke-width="1.45" stroke-linejoin="miter"/>
<polygon points="89.50,442.37 92.50,448.06 86.50,448.06" fill="#fff" stroke="#161616" stroke-width="1.45" stroke-linejoin="miter"/>
<polygon points="107.32,439.69 110.32,445.39 104.32,445.39" fill="#fff" stroke="#161616" stroke-width="1.45" stroke-linejoin="miter"/>
<polygon points="125.14,403.65 128.14,409.35 122.14,409.35" fill="#fff" stroke="#161616" stroke-width="1.45" stroke-linejoin="miter"/>
<polygon points="142.96,314.65 145.96,320.35 139.96,320.35" fill="#fff" stroke="#161616" stroke-width="1.45" stroke-linejoin="miter"/>
<polygon points="160.78,234.55 163.78,240.25 157.78,240.25" fill="#fff" stroke="#161616" stroke-width="1.45" stroke-linejoin="miter"/>
<polygon points="178.60,167.80 181.60,173.50 175.60,173.50" fill="#fff" stroke="#161616" stroke-width="1.45" stroke-linejoin="miter"/>
<polygon points="196.42,134.43 199.42,140.12 193.42,140.12" fill="#fff" stroke="#161616" stroke-width="1.45" stroke-linejoin="miter"/>
<polygon points="214.24,118.85 217.24,124.55 211.24,124.55" fill="#fff" stroke="#161616" stroke-width="1.45" stroke-linejoin="miter"/>
<polygon points="232.06,108.61 235.06,114.31 229.06,114.31" fill="#fff" stroke="#161616" stroke-width="1.45" stroke-linejoin="miter"/>
<polygon points="249.88,104.17 252.88,109.87 246.88,109.87" fill="#fff" stroke="#161616" stroke-width="1.45" stroke-linejoin="miter"/>
<polygon points="267.70,103.28 270.70,108.98 264.70,108.98" fill="#fff" stroke="#161616" stroke-width="1.45" stroke-linejoin="miter"/>
<polygon points="285.52,104.86 288.52,110.56 282.52,110.56" fill="#fff" stroke="#161616" stroke-width="1.45" stroke-linejoin="miter"/>
<polygon points="303.34,108.24 306.34,113.94 300.34,113.94" fill="#fff" stroke="#161616" stroke-width="1.45" stroke-linejoin="miter"/>
<polygon points="321.16,111.67 324.16,117.37 318.16,117.37" fill="#fff" stroke="#161616" stroke-width="1.45" stroke-linejoin="miter"/>
<polygon points="338.98,115.63 341.98,121.33 335.98,121.33" fill="#fff" stroke="#161616" stroke-width="1.45" stroke-linejoin="miter"/>
<polygon points="356.80,119.74 359.80,125.44 353.80,125.44" fill="#fff" stroke="#161616" stroke-width="1.45" stroke-linejoin="miter"/>
<polygon points="374.62,123.73 377.62,129.43 371.62,129.43" fill="#fff" stroke="#161616" stroke-width="1.45" stroke-linejoin="miter"/>
<polygon points="392.44,127.76 395.44,133.46 389.44,133.46" fill="#fff" stroke="#161616" stroke-width="1.45" stroke-linejoin="miter"/>
<polygon points="410.26,131.80 413.26,137.50 407.26,137.50" fill="#fff" stroke="#161616" stroke-width="1.45" stroke-linejoin="miter"/>
<polygon points="428.08,135.81 431.08,141.51 425.08,141.51" fill="#fff" stroke="#161616" stroke-width="1.45" stroke-linejoin="miter"/>
<polygon points="445.90,139.76 448.90,145.46 442.90,145.46" fill="#fff" stroke="#161616" stroke-width="1.45" stroke-linejoin="miter"/>
<polygon points="463.72,143.65 466.72,149.35 460.72,149.35" fill="#fff" stroke="#161616" stroke-width="1.45" stroke-linejoin="miter"/>
<polygon points="481.54,147.48 484.54,153.18 478.54,153.18" fill="#fff" stroke="#161616" stroke-width="1.45" stroke-linejoin="miter"/>
<polygon points="499.36,151.29 502.36,156.99 496.36,156.99" fill="#fff" stroke="#161616" stroke-width="1.45" stroke-linejoin="miter"/>
<polygon points="517.18,155.09 520.18,160.79 514.18,160.79" fill="#fff" stroke="#161616" stroke-width="1.45" stroke-linejoin="miter"/>
<polygon points="535.00,158.90 538.00,164.60 532.00,164.60" fill="#fff" stroke="#161616" stroke-width="1.45" stroke-linejoin="miter"/>
<circle cx="89.50" cy="431.57" r="3.0" fill="#fff" stroke="#161616" stroke-width="1.45"/>
<circle cx="107.32" cy="426.68" r="3.0" fill="#fff" stroke="#161616" stroke-width="1.45"/>
<circle cx="125.14" cy="386.63" r="3.0" fill="#fff" stroke="#161616" stroke-width="1.45"/>
<circle cx="142.96" cy="304.75" r="3.0" fill="#fff" stroke="#161616" stroke-width="1.45"/>
<circle cx="160.78" cy="224.65" r="3.0" fill="#fff" stroke="#161616" stroke-width="1.45"/>
<circle cx="178.60" cy="162.35" r="3.0" fill="#fff" stroke="#161616" stroke-width="1.45"/>
<circle cx="196.42" cy="132.09" r="3.0" fill="#fff" stroke="#161616" stroke-width="1.45"/>
<circle cx="214.24" cy="117.85" r="3.0" fill="#fff" stroke="#161616" stroke-width="1.45"/>
<circle cx="232.06" cy="112.06" r="3.0" fill="#fff" stroke="#161616" stroke-width="1.45"/>
<circle cx="249.88" cy="111.18" r="3.0" fill="#fff" stroke="#161616" stroke-width="1.45"/>
<circle cx="267.70" cy="112.06" r="3.0" fill="#fff" stroke="#161616" stroke-width="1.45"/>
<circle cx="285.52" cy="114.15" r="3.0" fill="#fff" stroke="#161616" stroke-width="1.45"/>
<circle cx="303.34" cy="116.83" r="3.0" fill="#fff" stroke="#161616" stroke-width="1.45"/>
<circle cx="321.16" cy="118.63" r="3.0" fill="#fff" stroke="#161616" stroke-width="1.45"/>
<circle cx="338.98" cy="119.98" r="3.0" fill="#fff" stroke="#161616" stroke-width="1.45"/>
<circle cx="356.80" cy="120.96" r="3.0" fill="#fff" stroke="#161616" stroke-width="1.45"/>
<circle cx="374.62" cy="121.69" r="3.0" fill="#fff" stroke="#161616" stroke-width="1.45"/>
<circle cx="392.44" cy="122.30" r="3.0" fill="#fff" stroke="#161616" stroke-width="1.45"/>
<circle cx="410.26" cy="122.81" r="3.0" fill="#fff" stroke="#161616" stroke-width="1.45"/>
<circle cx="428.08" cy="123.25" r="3.0" fill="#fff" stroke="#161616" stroke-width="1.45"/>
<circle cx="445.90" cy="123.63" r="3.0" fill="#fff" stroke="#161616" stroke-width="1.45"/>
<circle cx="463.72" cy="123.96" r="3.0" fill="#fff" stroke="#161616" stroke-width="1.45"/>
<circle cx="481.54" cy="124.23" r="3.0" fill="#fff" stroke="#161616" stroke-width="1.45"/>
<circle cx="499.36" cy="124.48" r="3.0" fill="#fff" stroke="#161616" stroke-width="1.45"/>
<circle cx="517.18" cy="124.72" r="3.0" fill="#fff" stroke="#161616" stroke-width="1.45"/>
<circle cx="535.00" cy="124.97" r="3.0" fill="#fff" stroke="#161616" stroke-width="1.45"/>
<polygon points="92.95,458.27 87.25,455.27 87.25,461.27" fill="#fff" stroke="#161616" stroke-width="1.45" stroke-linejoin="miter"/>
<polygon points="110.77,455.16 105.07,452.16 105.07,458.16" fill="#fff" stroke="#161616" stroke-width="1.45" stroke-linejoin="miter"/>
<polygon points="128.59,422.68 122.89,419.68 122.89,425.68" fill="#fff" stroke="#161616" stroke-width="1.45" stroke-linejoin="miter"/>
<polygon points="146.41,331.45 140.71,328.45 140.71,334.45" fill="#fff" stroke="#161616" stroke-width="1.45" stroke-linejoin="miter"/>
<polygon points="164.23,251.35 158.53,248.35 158.53,254.35" fill="#fff" stroke="#161616" stroke-width="1.45" stroke-linejoin="miter"/>
<polygon points="182.05,184.60 176.35,181.60 176.35,187.60" fill="#fff" stroke="#161616" stroke-width="1.45" stroke-linejoin="miter"/>
<polygon points="199.87,146.77 194.17,143.77 194.17,149.77" fill="#fff" stroke="#161616" stroke-width="1.45" stroke-linejoin="miter"/>
<polygon points="217.69,124.52 211.99,121.52 211.99,127.52" fill="#fff" stroke="#161616" stroke-width="1.45" stroke-linejoin="miter"/>
<polygon points="235.51,108.95 229.81,105.95 229.81,111.95" fill="#fff" stroke="#161616" stroke-width="1.45" stroke-linejoin="miter"/>
<polygon points="253.33,96.49 247.63,93.49 247.63,99.49" fill="#fff" stroke="#161616" stroke-width="1.45" stroke-linejoin="miter"/>
<polygon points="271.15,86.70 265.45,83.70 265.45,89.70" fill="#fff" stroke="#161616" stroke-width="1.45" stroke-linejoin="miter"/>
<polygon points="288.97,79.58 283.27,76.58 283.27,82.58" fill="#fff" stroke="#161616" stroke-width="1.45" stroke-linejoin="miter"/>
<polygon points="306.79,75.13 301.09,72.13 301.09,78.13" fill="#fff" stroke="#161616" stroke-width="1.45" stroke-linejoin="miter"/>
<polygon points="324.61,72.90 318.91,69.90 318.91,75.90" fill="#fff" stroke="#161616" stroke-width="1.45" stroke-linejoin="miter"/>
<polygon points="342.43,72.01 336.73,69.01 336.73,75.01" fill="#fff" stroke="#161616" stroke-width="1.45" stroke-linejoin="miter"/>
<polygon points="360.25,72.01 354.55,69.01 354.55,75.01" fill="#fff" stroke="#161616" stroke-width="1.45" stroke-linejoin="miter"/>
<polygon points="378.07,73.35 372.37,70.35 372.37,76.35" fill="#fff" stroke="#161616" stroke-width="1.45" stroke-linejoin="miter"/>
<polygon points="395.89,75.56 390.19,72.56 390.19,78.56" fill="#fff" stroke="#161616" stroke-width="1.45" stroke-linejoin="miter"/>
<polygon points="413.71,78.37 408.01,75.37 408.01,81.37" fill="#fff" stroke="#161616" stroke-width="1.45" stroke-linejoin="miter"/>
<polygon points="431.53,81.72 425.83,78.72 425.83,84.72" fill="#fff" stroke="#161616" stroke-width="1.45" stroke-linejoin="miter"/>
<polygon points="449.35,85.37 443.65,82.37 443.65,88.37" fill="#fff" stroke="#161616" stroke-width="1.45" stroke-linejoin="miter"/>
<polygon points="467.17,89.28 461.47,86.28 461.47,92.28" fill="#fff" stroke="#161616" stroke-width="1.45" stroke-linejoin="miter"/>
<polygon points="484.99,93.47 479.29,90.47 479.29,96.47" fill="#fff" stroke="#161616" stroke-width="1.45" stroke-linejoin="miter"/>
<polygon points="502.81,97.77 497.11,94.77 497.11,100.77" fill="#fff" stroke="#161616" stroke-width="1.45" stroke-linejoin="miter"/>
<polygon points="520.63,102.23 514.93,99.23 514.93,105.23" fill="#fff" stroke="#161616" stroke-width="1.45" stroke-linejoin="miter"/>
<polygon points="538.45,106.73 532.75,103.73 532.75,109.73" fill="#fff" stroke="#161616" stroke-width="1.45" stroke-linejoin="miter"/>
<polygon points="89.50,463.06 92.50,457.36 86.50,457.36" fill="#fff" stroke="#161616" stroke-width="1.45" stroke-linejoin="miter"/>
<polygon points="107.32,461.72 110.32,456.02 104.32,456.02" fill="#fff" stroke="#161616" stroke-width="1.45" stroke-linejoin="miter"/>
<polygon points="125.14,435.47 128.14,429.77 122.14,429.77" fill="#fff" stroke="#161616" stroke-width="1.45" stroke-linejoin="miter"/>
<polygon points="142.96,351.81 145.96,346.11 139.96,346.11" fill="#fff" stroke="#161616" stroke-width="1.45" stroke-linejoin="miter"/>
<polygon points="160.78,268.15 163.78,262.45 157.78,262.45" fill="#fff" stroke="#161616" stroke-width="1.45" stroke-linejoin="miter"/>
<polygon points="178.60,203.62 181.60,197.93 175.60,197.93" fill="#fff" stroke="#161616" stroke-width="1.45" stroke-linejoin="miter"/>
<polygon points="196.42,161.35 199.42,155.65 193.42,155.65" fill="#fff" stroke="#161616" stroke-width="1.45" stroke-linejoin="miter"/>
<polygon points="214.24,132.43 217.24,126.73 211.24,126.73" fill="#fff" stroke="#161616" stroke-width="1.45" stroke-linejoin="miter"/>
<polygon points="232.06,110.18 235.06,104.48 229.06,104.48" fill="#fff" stroke="#161616" stroke-width="1.45" stroke-linejoin="miter"/>
<polygon points="249.88,92.38 252.88,86.68 246.88,86.68" fill="#fff" stroke="#161616" stroke-width="1.45" stroke-linejoin="miter"/>
<polygon points="267.70,81.25 270.70,75.55 264.70,75.55" fill="#fff" stroke="#161616" stroke-width="1.45" stroke-linejoin="miter"/>
<polygon points="285.52,75.91 288.52,70.21 282.52,70.21" fill="#fff" stroke="#161616" stroke-width="1.45" stroke-linejoin="miter"/>
<polygon points="303.34,73.24 306.34,67.54 300.34,67.54" fill="#fff" stroke="#161616" stroke-width="1.45" stroke-linejoin="miter"/>
<polygon points="321.16,71.90 324.16,66.20 318.16,66.20" fill="#fff" stroke="#161616" stroke-width="1.45" stroke-linejoin="miter"/>
<polygon points="338.98,71.46 341.98,65.76 335.98,65.76" fill="#fff" stroke="#161616" stroke-width="1.45" stroke-linejoin="miter"/>
<polygon points="356.80,72.35 359.80,66.65 353.80,66.65" fill="#fff" stroke="#161616" stroke-width="1.45" stroke-linejoin="miter"/>
<polygon points="374.62,74.58 377.62,68.88 371.62,68.88" fill="#fff" stroke="#161616" stroke-width="1.45" stroke-linejoin="miter"/>
<polygon points="392.44,77.93 395.44,72.23 389.44,72.23" fill="#fff" stroke="#161616" stroke-width="1.45" stroke-linejoin="miter"/>
<polygon points="410.26,82.03 413.26,76.33 407.26,76.33" fill="#fff" stroke="#161616" stroke-width="1.45" stroke-linejoin="miter"/>
<polygon points="428.08,86.77 431.08,81.07 425.08,81.07" fill="#fff" stroke="#161616" stroke-width="1.45" stroke-linejoin="miter"/>
<polygon points="445.90,91.93 448.90,86.23 442.90,86.23" fill="#fff" stroke="#161616" stroke-width="1.45" stroke-linejoin="miter"/>
<polygon points="463.72,97.51 466.72,91.81 460.72,91.81" fill="#fff" stroke="#161616" stroke-width="1.45" stroke-linejoin="miter"/>
<polygon points="481.54,103.52 484.54,97.82 478.54,97.82" fill="#fff" stroke="#161616" stroke-width="1.45" stroke-linejoin="miter"/>
<polygon points="499.36,109.79 502.36,104.09 496.36,104.09" fill="#fff" stroke="#161616" stroke-width="1.45" stroke-linejoin="miter"/>
<polygon points="517.18,116.40 520.18,110.70 514.18,110.70" fill="#fff" stroke="#161616" stroke-width="1.45" stroke-linejoin="miter"/>
<polygon points="535.00,123.08 538.00,117.38 532.00,117.38" fill="#fff" stroke="#161616" stroke-width="1.45" stroke-linejoin="miter"/>
<polygon points="92.80,407.55 91.15,410.40 87.85,410.40 86.20,407.55 87.85,404.69 91.15,404.69" fill="#fff" stroke="#161616" stroke-width="1.45" stroke-linejoin="miter"/>
<polygon points="110.62,390.19 108.97,393.05 105.67,393.05 104.02,390.19 105.67,387.33 108.97,387.33" fill="#fff" stroke="#161616" stroke-width="1.45" stroke-linejoin="miter"/>
<polygon points="128.44,349.25 126.79,352.11 123.49,352.11 121.84,349.25 123.49,346.39 126.79,346.39" fill="#fff" stroke="#161616" stroke-width="1.45" stroke-linejoin="miter"/>
<polygon points="146.26,291.40 144.61,294.26 141.31,294.26 139.66,291.40 141.31,288.54 144.61,288.54" fill="#fff" stroke="#161616" stroke-width="1.45" stroke-linejoin="miter"/>
<polygon points="164.08,195.73 162.43,198.58 159.13,198.58 157.48,195.73 159.13,192.87 162.43,192.87" fill="#fff" stroke="#161616" stroke-width="1.45" stroke-linejoin="miter"/>
<polygon points="181.90,136.09 180.25,138.95 176.95,138.95 175.30,136.09 176.95,133.24 180.25,133.24" fill="#fff" stroke="#161616" stroke-width="1.45" stroke-linejoin="miter"/>
<polygon points="199.72,104.50 198.07,107.36 194.77,107.36 193.12,104.50 194.77,101.64 198.07,101.64" fill="#fff" stroke="#161616" stroke-width="1.45" stroke-linejoin="miter"/>
<polygon points="217.54,91.15 215.89,94.01 212.59,94.01 210.94,91.15 212.59,88.29 215.89,88.29" fill="#fff" stroke="#161616" stroke-width="1.45" stroke-linejoin="miter"/>
<polygon points="235.36,84.48 233.71,87.33 230.41,87.33 228.76,84.48 230.41,81.62 233.71,81.62" fill="#fff" stroke="#161616" stroke-width="1.45" stroke-linejoin="miter"/>
<polygon points="253.18,82.25 251.53,85.11 248.23,85.11 246.58,82.25 248.23,79.39 251.53,79.39" fill="#fff" stroke="#161616" stroke-width="1.45" stroke-linejoin="miter"/>
<polygon points="271.00,82.25 269.35,85.11 266.05,85.11 264.40,82.25 266.05,79.39 269.35,79.39" fill="#fff" stroke="#161616" stroke-width="1.45" stroke-linejoin="miter"/>
<polygon points="288.82,83.58 287.17,86.44 283.87,86.44 282.22,83.58 283.87,80.73 287.17,80.73" fill="#fff" stroke="#161616" stroke-width="1.45" stroke-linejoin="miter"/>
<polygon points="306.64,85.81 304.99,88.67 301.69,88.67 300.04,85.81 301.69,82.95 304.99,82.95" fill="#fff" stroke="#161616" stroke-width="1.45" stroke-linejoin="miter"/>
<polygon points="324.46,88.04 322.81,90.89 319.51,90.89 317.86,88.04 319.51,85.18 322.81,85.18" fill="#fff" stroke="#161616" stroke-width="1.45" stroke-linejoin="miter"/>
<polygon points="342.28,90.26 340.63,93.12 337.33,93.12 335.68,90.26 337.33,87.40 340.63,87.40" fill="#fff" stroke="#161616" stroke-width="1.45" stroke-linejoin="miter"/>
<polygon points="360.10,92.93 358.45,95.79 355.15,95.79 353.50,92.93 355.15,90.07 358.45,90.07" fill="#fff" stroke="#161616" stroke-width="1.45" stroke-linejoin="miter"/>
<polygon points="377.92,94.25 376.27,97.11 372.97,97.11 371.32,94.25 372.97,91.39 376.27,91.39" fill="#fff" stroke="#161616" stroke-width="1.45" stroke-linejoin="miter"/>
<polygon points="395.74,95.18 394.09,98.04 390.79,98.04 389.14,95.18 390.79,92.32 394.09,92.32" fill="#fff" stroke="#161616" stroke-width="1.45" stroke-linejoin="miter"/>
<polygon points="413.56,96.01 411.91,98.87 408.61,98.87 406.96,96.01 408.61,93.15 411.91,93.15" fill="#fff" stroke="#161616" stroke-width="1.45" stroke-linejoin="miter"/>
<polygon points="431.38,96.74 429.73,99.60 426.43,99.60 424.78,96.74 426.43,93.88 429.73,93.88" fill="#fff" stroke="#161616" stroke-width="1.45" stroke-linejoin="miter"/>
<polygon points="449.20,97.38 447.55,100.24 444.25,100.24 442.60,97.38 444.25,94.52 447.55,94.52" fill="#fff" stroke="#161616" stroke-width="1.45" stroke-linejoin="miter"/>
<polygon points="467.02,98.01 465.37,100.86 462.07,100.86 460.42,98.01 462.07,95.15 465.37,95.15" fill="#fff" stroke="#161616" stroke-width="1.45" stroke-linejoin="miter"/>
<polygon points="484.84,98.54 483.19,101.40 479.89,101.40 478.24,98.54 479.89,95.68 483.19,95.68" fill="#fff" stroke="#161616" stroke-width="1.45" stroke-linejoin="miter"/>
<polygon points="502.66,98.83 501.01,101.69 497.71,101.69 496.06,98.83 497.71,95.97 501.01,95.97" fill="#fff" stroke="#161616" stroke-width="1.45" stroke-linejoin="miter"/>
<polygon points="520.48,99.00 518.83,101.86 515.53,101.86 513.88,99.00 515.53,96.15 518.83,96.15" fill="#fff" stroke="#161616" stroke-width="1.45" stroke-linejoin="miter"/>
<polygon points="538.30,99.16 536.65,102.02 533.35,102.02 531.70,99.16 533.35,96.30 536.65,96.30" fill="#fff" stroke="#161616" stroke-width="1.45" stroke-linejoin="miter"/>
<rect x="86.50" y="375.18" width="6.0" height="6.0" fill="#fff" stroke="#161616" stroke-width="1.45"/>
<rect x="104.32" y="372.95" width="6.0" height="6.0" fill="#fff" stroke="#161616" stroke-width="1.45"/>
<rect x="122.14" y="259.92" width="6.0" height="6.0" fill="#fff" stroke="#161616" stroke-width="1.45"/>
<rect x="139.96" y="139.32" width="6.0" height="6.0" fill="#fff" stroke="#161616" stroke-width="1.45"/>
<rect x="157.78" y="99.72" width="6.0" height="6.0" fill="#fff" stroke="#161616" stroke-width="1.45"/>
<rect x="175.60" y="82.37" width="6.0" height="6.0" fill="#fff" stroke="#161616" stroke-width="1.45"/>
<rect x="193.42" y="75.69" width="6.0" height="6.0" fill="#fff" stroke="#161616" stroke-width="1.45"/>
<rect x="211.24" y="71.24" width="6.0" height="6.0" fill="#fff" stroke="#161616" stroke-width="1.45"/>
<rect x="229.06" y="68.57" width="6.0" height="6.0" fill="#fff" stroke="#161616" stroke-width="1.45"/>
<rect x="246.88" y="67.24" width="6.0" height="6.0" fill="#fff" stroke="#161616" stroke-width="1.45"/>
<rect x="264.70" y="66.35" width="6.0" height="6.0" fill="#fff" stroke="#161616" stroke-width="1.45"/>
<rect x="282.52" y="65.58" width="6.0" height="6.0" fill="#fff" stroke="#161616" stroke-width="1.45"/>
<rect x="300.34" y="64.88" width="6.0" height="6.0" fill="#fff" stroke="#161616" stroke-width="1.45"/>
<rect x="318.16" y="64.27" width="6.0" height="6.0" fill="#fff" stroke="#161616" stroke-width="1.45"/>
<rect x="335.98" y="63.71" width="6.0" height="6.0" fill="#fff" stroke="#161616" stroke-width="1.45"/>
<rect x="353.80" y="63.23" width="6.0" height="6.0" fill="#fff" stroke="#161616" stroke-width="1.45"/>
<rect x="371.62" y="62.85" width="6.0" height="6.0" fill="#fff" stroke="#161616" stroke-width="1.45"/>
<rect x="389.44" y="62.51" width="6.0" height="6.0" fill="#fff" stroke="#161616" stroke-width="1.45"/>
<rect x="407.26" y="62.15" width="6.0" height="6.0" fill="#fff" stroke="#161616" stroke-width="1.45"/>
<rect x="425.08" y="61.76" width="6.0" height="6.0" fill="#fff" stroke="#161616" stroke-width="1.45"/>
<rect x="442.90" y="61.45" width="6.0" height="6.0" fill="#fff" stroke="#161616" stroke-width="1.45"/>
<rect x="460.72" y="61.25" width="6.0" height="6.0" fill="#fff" stroke="#161616" stroke-width="1.45"/>
<rect x="478.54" y="61.09" width="6.0" height="6.0" fill="#fff" stroke="#161616" stroke-width="1.45"/>
<rect x="496.36" y="60.92" width="6.0" height="6.0" fill="#fff" stroke="#161616" stroke-width="1.45"/>
<rect x="514.18" y="60.74" width="6.0" height="6.0" fill="#fff" stroke="#161616" stroke-width="1.45"/>
<rect x="532.00" y="60.56" width="6.0" height="6.0" fill="#fff" stroke="#161616" stroke-width="1.45"/>
</g>
<rect x="89.5" y="15.5" width="445.5" height="445.0" fill="none" stroke="#161616" stroke-width="2"/>
<line x1="83.00" y1="460.50" x2="89.50" y2="460.50" stroke="#161616" stroke-width="1.6" />
<line x1="86.00" y1="438.25" x2="89.50" y2="438.25" stroke="#161616" stroke-width="1.6" />
<line x1="83.00" y1="416.00" x2="89.50" y2="416.00" stroke="#161616" stroke-width="1.6" />
<line x1="86.00" y1="393.75" x2="89.50" y2="393.75" stroke="#161616" stroke-width="1.6" />
<line x1="83.00" y1="371.50" x2="89.50" y2="371.50" stroke="#161616" stroke-width="1.6" />
<line x1="86.00" y1="349.25" x2="89.50" y2="349.25" stroke="#161616" stroke-width="1.6" />
<line x1="83.00" y1="327.00" x2="89.50" y2="327.00" stroke="#161616" stroke-width="1.6" />
<line x1="86.00" y1="304.75" x2="89.50" y2="304.75" stroke="#161616" stroke-width="1.6" />
<line x1="83.00" y1="282.50" x2="89.50" y2="282.50" stroke="#161616" stroke-width="1.6" />
<line x1="86.00" y1="260.25" x2="89.50" y2="260.25" stroke="#161616" stroke-width="1.6" />
<line x1="83.00" y1="238.00" x2="89.50" y2="238.00" stroke="#161616" stroke-width="1.6" />
<line x1="86.00" y1="215.75" x2="89.50" y2="215.75" stroke="#161616" stroke-width="1.6" />
<line x1="83.00" y1="193.50" x2="89.50" y2="193.50" stroke="#161616" stroke-width="1.6" />
<line x1="86.00" y1="171.25" x2="89.50" y2="171.25" stroke="#161616" stroke-width="1.6" />
<line x1="83.00" y1="149.00" x2="89.50" y2="149.00" stroke="#161616" stroke-width="1.6" />
<line x1="86.00" y1="126.75" x2="89.50" y2="126.75" stroke="#161616" stroke-width="1.6" />
<line x1="83.00" y1="104.50" x2="89.50" y2="104.50" stroke="#161616" stroke-width="1.6" />
<line x1="86.00" y1="82.25" x2="89.50" y2="82.25" stroke="#161616" stroke-width="1.6" />
<line x1="83.00" y1="60.00" x2="89.50" y2="60.00" stroke="#161616" stroke-width="1.6" />
<line x1="86.00" y1="37.75" x2="89.50" y2="37.75" stroke="#161616" stroke-width="1.6" />
<line x1="83.00" y1="15.50" x2="89.50" y2="15.50" stroke="#161616" stroke-width="1.6" />
<line x1="89.50" y1="460.50" x2="89.50" y2="470.30" stroke="#161616" stroke-width="1.8" />
<line x1="111.78" y1="460.50" x2="111.78" y2="465.30" stroke="#161616" stroke-width="1.8" />
<line x1="134.05" y1="460.50" x2="134.05" y2="470.30" stroke="#161616" stroke-width="1.8" />
<line x1="156.32" y1="460.50" x2="156.32" y2="465.30" stroke="#161616" stroke-width="1.8" />
<line x1="178.60" y1="460.50" x2="178.60" y2="470.30" stroke="#161616" stroke-width="1.8" />
<line x1="200.88" y1="460.50" x2="200.88" y2="465.30" stroke="#161616" stroke-width="1.8" />
<line x1="223.15" y1="460.50" x2="223.15" y2="470.30" stroke="#161616" stroke-width="1.8" />
<line x1="245.43" y1="460.50" x2="245.43" y2="465.30" stroke="#161616" stroke-width="1.8" />
<line x1="267.70" y1="460.50" x2="267.70" y2="470.30" stroke="#161616" stroke-width="1.8" />
<line x1="289.98" y1="460.50" x2="289.98" y2="465.30" stroke="#161616" stroke-width="1.8" />
<line x1="312.25" y1="460.50" x2="312.25" y2="470.30" stroke="#161616" stroke-width="1.8" />
<line x1="334.52" y1="460.50" x2="334.52" y2="465.30" stroke="#161616" stroke-width="1.8" />
<line x1="356.80" y1="460.50" x2="356.80" y2="470.30" stroke="#161616" stroke-width="1.8" />
<line x1="379.07" y1="460.50" x2="379.07" y2="465.30" stroke="#161616" stroke-width="1.8" />
<line x1="401.35" y1="460.50" x2="401.35" y2="470.30" stroke="#161616" stroke-width="1.8" />
<line x1="423.62" y1="460.50" x2="423.62" y2="465.30" stroke="#161616" stroke-width="1.8" />
<line x1="445.90" y1="460.50" x2="445.90" y2="470.30" stroke="#161616" stroke-width="1.8" />
<line x1="468.18" y1="460.50" x2="468.18" y2="465.30" stroke="#161616" stroke-width="1.8" />
<line x1="490.45" y1="460.50" x2="490.45" y2="470.30" stroke="#161616" stroke-width="1.8" />
<line x1="512.73" y1="460.50" x2="512.73" y2="465.30" stroke="#161616" stroke-width="1.8" />
<line x1="535.00" y1="460.50" x2="535.00" y2="470.30" stroke="#161616" stroke-width="1.8" />
<text x="0" y="0" transform="translate(79.50 466.40) scale(0.93 1)" font-family='"Liberation Sans", sans-serif' font-size="22.5" font-weight="bold" text-anchor="end" fill="#161616" >0</text>
<text x="0" y="0" transform="translate(79.50 421.90) scale(0.93 1)" font-family='"Liberation Sans", sans-serif' font-size="22.5" font-weight="bold" text-anchor="end" fill="#161616" >10</text>
<text x="0" y="0" transform="translate(79.50 377.40) scale(0.93 1)" font-family='"Liberation Sans", sans-serif' font-size="22.5" font-weight="bold" text-anchor="end" fill="#161616" >20</text>
<text x="0" y="0" transform="translate(79.50 332.90) scale(0.93 1)" font-family='"Liberation Sans", sans-serif' font-size="22.5" font-weight="bold" text-anchor="end" fill="#161616" >30</text>
<text x="0" y="0" transform="translate(79.50 288.40) scale(0.93 1)" font-family='"Liberation Sans", sans-serif' font-size="22.5" font-weight="bold" text-anchor="end" fill="#161616" >40</text>
<text x="0" y="0" transform="translate(79.50 243.90) scale(0.93 1)" font-family='"Liberation Sans", sans-serif' font-size="22.5" font-weight="bold" text-anchor="end" fill="#161616" >50</text>
<text x="0" y="0" transform="translate(79.50 199.40) scale(0.93 1)" font-family='"Liberation Sans", sans-serif' font-size="22.5" font-weight="bold" text-anchor="end" fill="#161616" >60</text>
<text x="0" y="0" transform="translate(79.50 154.90) scale(0.93 1)" font-family='"Liberation Sans", sans-serif' font-size="22.5" font-weight="bold" text-anchor="end" fill="#161616" >70</text>
<text x="0" y="0" transform="translate(79.50 110.40) scale(0.93 1)" font-family='"Liberation Sans", sans-serif' font-size="22.5" font-weight="bold" text-anchor="end" fill="#161616" >80</text>
<text x="0" y="0" transform="translate(79.50 65.90) scale(0.93 1)" font-family='"Liberation Sans", sans-serif' font-size="22.5" font-weight="bold" text-anchor="end" fill="#161616" >90</text>
<text x="0" y="0" transform="translate(79.50 21.40) scale(0.93 1)" font-family='"Liberation Sans", sans-serif' font-size="22.5" font-weight="bold" text-anchor="end" fill="#161616" >100</text>
<text x="89.50" y="489.30" font-family='"Liberation Sans", sans-serif' font-size="17.6" font-weight="bold" text-anchor="middle" fill="#161616" >300</text>
<text x="134.05" y="489.30" font-family='"Liberation Sans", sans-serif' font-size="17.6" font-weight="bold" text-anchor="middle" fill="#161616" >350</text>
<text x="178.60" y="489.30" font-family='"Liberation Sans", sans-serif' font-size="17.6" font-weight="bold" text-anchor="middle" fill="#161616" >400</text>
<text x="223.15" y="489.30" font-family='"Liberation Sans", sans-serif' font-size="17.6" font-weight="bold" text-anchor="middle" fill="#161616" >450</text>
<text x="267.70" y="489.30" font-family='"Liberation Sans", sans-serif' font-size="17.6" font-weight="bold" text-anchor="middle" fill="#161616" >500</text>
<text x="312.25" y="489.30" font-family='"Liberation Sans", sans-serif' font-size="17.6" font-weight="bold" text-anchor="middle" fill="#161616" >550</text>
<text x="356.80" y="489.30" font-family='"Liberation Sans", sans-serif' font-size="17.6" font-weight="bold" text-anchor="middle" fill="#161616" >600</text>
<text x="401.35" y="489.30" font-family='"Liberation Sans", sans-serif' font-size="17.6" font-weight="bold" text-anchor="middle" fill="#161616" >650</text>
<text x="445.90" y="489.30" font-family='"Liberation Sans", sans-serif' font-size="17.6" font-weight="bold" text-anchor="middle" fill="#161616" >700</text>
<text x="490.45" y="489.30" font-family='"Liberation Sans", sans-serif' font-size="17.6" font-weight="bold" text-anchor="middle" fill="#161616" >750</text>
<text x="535.00" y="489.30" font-family='"Liberation Sans", sans-serif' font-size="17.6" font-weight="bold" text-anchor="middle" fill="#161616" >800</text>
<text x="0" y="0" transform="translate(24.60 383.30) rotate(-90) scale(0.94 1)" font-family='"Liberation Sans", sans-serif' font-size="34" font-weight="bold" text-anchor="start" fill="#161616" >Transmittance (%<tspan dx="2.5">)</tspan></text>
<text x="0" y="0" transform="translate(188.20 523.80) scale(1.04 1)" font-family='"Liberation Sans", sans-serif' font-size="29.5" font-weight="bold" text-anchor="start" fill="#161616" >Wavelength (nm)</text>
<text x="112.60" y="62.00" font-family='"Liberation Serif", serif' font-size="35" font-weight="bold" text-anchor="start" fill="#161616" >(a)</text>
<line x1="308.50" y1="243.10" x2="359.50" y2="243.10" stroke="#161616" stroke-width="2.8" />
<rect x="330.40" y="239.10" width="8.0" height="8.0" fill="#fff" stroke="#161616" stroke-width="1.4"/>
<text x="365.00" y="249.70" font-family='"Liberation Sans", sans-serif' font-size="21.7" font-weight="normal" text-anchor="start" fill="#161616" stroke="#161616" stroke-width="0.45">PES</text>
<line x1="308.50" y1="269.80" x2="359.50" y2="269.80" stroke="#161616" stroke-width="2.8" />
<circle cx="334.40" cy="269.80" r="4.0" fill="#fff" stroke="#161616" stroke-width="1.4"/>
<text x="365.00" y="276.40" font-family='"Liberation Sans", sans-serif' font-size="21.7" font-weight="normal" text-anchor="start" fill="#161616" stroke="#161616" stroke-width="0.45">Ag 3nm</text>
<line x1="308.50" y1="296.50" x2="359.50" y2="296.50" stroke="#161616" stroke-width="2.8" />
<polygon points="334.40,291.90 338.40,299.50 330.40,299.50" fill="#fff" stroke="#161616" stroke-width="1.4" stroke-linejoin="miter"/>
<text x="365.00" y="303.10" font-family='"Liberation Sans", sans-serif' font-size="21.7" font-weight="normal" text-anchor="start" fill="#161616" stroke="#161616" stroke-width="0.45">Ag 5nm</text>
<line x1="308.50" y1="323.20" x2="359.50" y2="323.20" stroke="#161616" stroke-width="2.8" />
<polygon points="339.00,323.20 331.40,319.20 331.40,327.20" fill="#fff" stroke="#161616" stroke-width="1.4" stroke-linejoin="miter"/>
<text x="365.00" y="329.80" font-family='"Liberation Sans", sans-serif' font-size="21.7" font-weight="normal" text-anchor="start" fill="#161616" stroke="#161616" stroke-width="0.45">Ag 7nm</text>
<line x1="308.50" y1="349.90" x2="359.50" y2="349.90" stroke="#161616" stroke-width="2.8" />
<polygon points="334.40,354.50 338.40,346.90 330.40,346.90" fill="#fff" stroke="#161616" stroke-width="1.4" stroke-linejoin="miter"/>
<text x="365.00" y="356.50" font-family='"Liberation Sans", sans-serif' font-size="21.7" font-weight="normal" text-anchor="start" fill="#161616" stroke="#161616" stroke-width="0.45">Ag 9nm</text>
<line x1="308.50" y1="376.60" x2="359.50" y2="376.60" stroke="#161616" stroke-width="2.8" />
<polygon points="334.40,371.80 339.20,376.60 334.40,381.40 329.60,376.60" fill="#fff" stroke="#161616" stroke-width="1.4" stroke-linejoin="miter"/>
<text x="365.00" y="383.20" font-family='"Liberation Sans", sans-serif' font-size="21.7" font-weight="normal" text-anchor="start" fill="#161616" stroke="#161616" stroke-width="0.45">Ag 15nm</text>
<line x1="308.50" y1="403.30" x2="359.50" y2="403.30" stroke="#161616" stroke-width="2.8" />
<polygon points="329.80,403.30 337.40,399.30 337.40,407.30" fill="#fff" stroke="#161616" stroke-width="1.4" stroke-linejoin="miter"/>
<text x="365.00" y="409.90" font-family='"Liberation Sans", sans-serif' font-size="21.7" font-weight="normal" text-anchor="start" fill="#161616" stroke="#161616" stroke-width="0.45">Ag 20nm</text>
<line x1="308.50" y1="430.00" x2="359.50" y2="430.00" stroke="#161616" stroke-width="2.8" />
<polygon points="338.80,430.00 336.60,433.81 332.20,433.81 330.00,430.00 332.20,426.19 336.60,426.19" fill="#fff" stroke="#161616" stroke-width="1.4" stroke-linejoin="miter"/>
<text x="365.00" y="436.60" font-family='"Liberation Sans", sans-serif' font-size="21.7" font-weight="normal" text-anchor="start" fill="#161616" stroke="#161616" stroke-width="0.45">AZO 100nm</text>
</g>
<g id="panel-b">
<polyline points="762.20,188.80 816.90,178.00 871.60,146.00 926.00,113.70 1089.60,205.00 1226.80,298.80" fill="none" stroke="#161616" stroke-width="2.0" stroke-linejoin="round" />
<circle cx="762.20" cy="188.80" r="11.2" fill="#fff" stroke="#161616" stroke-width="2.2"/>
<circle cx="816.90" cy="178.00" r="11.2" fill="#fff" stroke="#161616" stroke-width="2.2"/>
<circle cx="871.60" cy="146.00" r="11.2" fill="#fff" stroke="#161616" stroke-width="2.2"/>
<circle cx="926.00" cy="113.70" r="11.2" fill="#fff" stroke="#161616" stroke-width="2.2"/>
<circle cx="1089.60" cy="205.00" r="11.2" fill="#fff" stroke="#161616" stroke-width="2.2"/>
<circle cx="1226.80" cy="298.80" r="11.2" fill="#fff" stroke="#161616" stroke-width="2.2"/>
<line x1="708.50" y1="13.50" x2="708.50" y2="461.00" stroke="#161616" stroke-width="3.0" />
<line x1="707.50" y1="459.50" x2="1283.00" y2="459.50" stroke="#161616" stroke-width="3.3" />
<line x1="708.50" y1="14.50" x2="1281.50" y2="14.50" stroke="#161616" stroke-width="2.0" />
<line x1="1281.50" y1="13.50" x2="1281.50" y2="461.00" stroke="#161616" stroke-width="3.3" />
<line x1="698.50" y1="459.50" x2="708.50" y2="459.50" stroke="#161616" stroke-width="2.3" />
<line x1="1271.50" y1="459.50" x2="1281.50" y2="459.50" stroke="#161616" stroke-width="2.3" />
<line x1="703.00" y1="444.67" x2="708.50" y2="444.67" stroke="#161616" stroke-width="2.3" />
<line x1="1276.00" y1="444.67" x2="1281.50" y2="444.67" stroke="#161616" stroke-width="2.3" />
<line x1="703.00" y1="429.83" x2="708.50" y2="429.83" stroke="#161616" stroke-width="2.3" />
<line x1="1276.00" y1="429.83" x2="1281.50" y2="429.83" stroke="#161616" stroke-width="2.3" />
<line x1="703.00" y1="415.00" x2="708.50" y2="415.00" stroke="#161616" stroke-width="2.3" />
<line x1="1276.00" y1="415.00" x2="1281.50" y2="415.00" stroke="#161616" stroke-width="2.3" />
<line x1="703.00" y1="400.17" x2="708.50" y2="400.17" stroke="#161616" stroke-width="2.3" />
<line x1="1276.00" y1="400.17" x2="1281.50" y2="400.17" stroke="#161616" stroke-width="2.3" />
<line x1="698.50" y1="385.33" x2="708.50" y2="385.33" stroke="#161616" stroke-width="2.3" />
<line x1="1271.50" y1="385.33" x2="1281.50" y2="385.33" stroke="#161616" stroke-width="2.3" />
<line x1="703.00" y1="370.50" x2="708.50" y2="370.50" stroke="#161616" stroke-width="2.3" />
<line x1="1276.00" y1="370.50" x2="1281.50" y2="370.50" stroke="#161616" stroke-width="2.3" />
<line x1="703.00" y1="355.67" x2="708.50" y2="355.67" stroke="#161616" stroke-width="2.3" />
<line x1="1276.00" y1="355.67" x2="1281.50" y2="355.67" stroke="#161616" stroke-width="2.3" />
<line x1="703.00" y1="340.83" x2="708.50" y2="340.83" stroke="#161616" stroke-width="2.3" />
<line x1="1276.00" y1="340.83" x2="1281.50" y2="340.83" stroke="#161616" stroke-width="2.3" />
<line x1="703.00" y1="326.00" x2="708.50" y2="326.00" stroke="#161616" stroke-width="2.3" />
<line x1="1276.00" y1="326.00" x2="1281.50" y2="326.00" stroke="#161616" stroke-width="2.3" />
<line x1="698.50" y1="311.17" x2="708.50" y2="311.17" stroke="#161616" stroke-width="2.3" />
<line x1="1271.50" y1="311.17" x2="1281.50" y2="311.17" stroke="#161616" stroke-width="2.3" />
<line x1="703.00" y1="296.33" x2="708.50" y2="296.33" stroke="#161616" stroke-width="2.3" />
<line x1="1276.00" y1="296.33" x2="1281.50" y2="296.33" stroke="#161616" stroke-width="2.3" />
<line x1="703.00" y1="281.50" x2="708.50" y2="281.50" stroke="#161616" stroke-width="2.3" />
<line x1="1276.00" y1="281.50" x2="1281.50" y2="281.50" stroke="#161616" stroke-width="2.3" />
<line x1="703.00" y1="266.67" x2="708.50" y2="266.67" stroke="#161616" stroke-width="2.3" />
<line x1="1276.00" y1="266.67" x2="1281.50" y2="266.67" stroke="#161616" stroke-width="2.3" />
<line x1="703.00" y1="251.83" x2="708.50" y2="251.83" stroke="#161616" stroke-width="2.3" />
<line x1="1276.00" y1="251.83" x2="1281.50" y2="251.83" stroke="#161616" stroke-width="2.3" />
<line x1="698.50" y1="237.00" x2="708.50" y2="237.00" stroke="#161616" stroke-width="2.3" />
<line x1="1271.50" y1="237.00" x2="1281.50" y2="237.00" stroke="#161616" stroke-width="2.3" />
<line x1="703.00" y1="222.17" x2="708.50" y2="222.17" stroke="#161616" stroke-width="2.3" />
<line x1="1276.00" y1="222.17" x2="1281.50" y2="222.17" stroke="#161616" stroke-width="2.3" />
<line x1="703.00" y1="207.33" x2="708.50" y2="207.33" stroke="#161616" stroke-width="2.3" />
<line x1="1276.00" y1="207.33" x2="1281.50" y2="207.33" stroke="#161616" stroke-width="2.3" />
<line x1="703.00" y1="192.50" x2="708.50" y2="192.50" stroke="#161616" stroke-width="2.3" />
<line x1="1276.00" y1="192.50" x2="1281.50" y2="192.50" stroke="#161616" stroke-width="2.3" />
<line x1="703.00" y1="177.67" x2="708.50" y2="177.67" stroke="#161616" stroke-width="2.3" />
<line x1="1276.00" y1="177.67" x2="1281.50" y2="177.67" stroke="#161616" stroke-width="2.3" />
<line x1="698.50" y1="162.83" x2="708.50" y2="162.83" stroke="#161616" stroke-width="2.3" />
<line x1="1271.50" y1="162.83" x2="1281.50" y2="162.83" stroke="#161616" stroke-width="2.3" />
<line x1="703.00" y1="148.00" x2="708.50" y2="148.00" stroke="#161616" stroke-width="2.3" />
<line x1="1276.00" y1="148.00" x2="1281.50" y2="148.00" stroke="#161616" stroke-width="2.3" />
<line x1="703.00" y1="133.17" x2="708.50" y2="133.17" stroke="#161616" stroke-width="2.3" />
<line x1="1276.00" y1="133.17" x2="1281.50" y2="133.17" stroke="#161616" stroke-width="2.3" />
<line x1="703.00" y1="118.33" x2="708.50" y2="118.33" stroke="#161616" stroke-width="2.3" />
<line x1="1276.00" y1="118.33" x2="1281.50" y2="118.33" stroke="#161616" stroke-width="2.3" />
<line x1="703.00" y1="103.50" x2="708.50" y2="103.50" stroke="#161616" stroke-width="2.3" />
<line x1="1276.00" y1="103.50" x2="1281.50" y2="103.50" stroke="#161616" stroke-width="2.3" />
<line x1="698.50" y1="88.67" x2="708.50" y2="88.67" stroke="#161616" stroke-width="2.3" />
<line x1="1271.50" y1="88.67" x2="1281.50" y2="88.67" stroke="#161616" stroke-width="2.3" />
<line x1="703.00" y1="73.83" x2="708.50" y2="73.83" stroke="#161616" stroke-width="2.3" />
<line x1="1276.00" y1="73.83" x2="1281.50" y2="73.83" stroke="#161616" stroke-width="2.3" />
<line x1="703.00" y1="59.00" x2="708.50" y2="59.00" stroke="#161616" stroke-width="2.3" />
<line x1="1276.00" y1="59.00" x2="1281.50" y2="59.00" stroke="#161616" stroke-width="2.3" />
<line x1="703.00" y1="44.17" x2="708.50" y2="44.17" stroke="#161616" stroke-width="2.3" />
<line x1="1276.00" y1="44.17" x2="1281.50" y2="44.17" stroke="#161616" stroke-width="2.3" />
<line x1="703.00" y1="29.33" x2="708.50" y2="29.33" stroke="#161616" stroke-width="2.3" />
<line x1="1276.00" y1="29.33" x2="1281.50" y2="29.33" stroke="#161616" stroke-width="2.3" />
<line x1="698.50" y1="14.50" x2="708.50" y2="14.50" stroke="#161616" stroke-width="2.3" />
<line x1="1271.50" y1="14.50" x2="1281.50" y2="14.50" stroke="#161616" stroke-width="2.3" />
<line x1="707.95" y1="459.50" x2="707.95" y2="465.00" stroke="#161616" stroke-width="2.3" />
<line x1="707.95" y1="14.50" x2="707.95" y2="20.00" stroke="#161616" stroke-width="2.3" />
<line x1="735.30" y1="459.50" x2="735.30" y2="469.50" stroke="#161616" stroke-width="2.3" />
<line x1="735.30" y1="14.50" x2="735.30" y2="24.50" stroke="#161616" stroke-width="2.3" />
<line x1="762.64" y1="459.50" x2="762.64" y2="465.00" stroke="#161616" stroke-width="2.3" />
<line x1="762.64" y1="14.50" x2="762.64" y2="20.00" stroke="#161616" stroke-width="2.3" />
<line x1="789.99" y1="459.50" x2="789.99" y2="469.50" stroke="#161616" stroke-width="2.3" />
<line x1="789.99" y1="14.50" x2="789.99" y2="24.50" stroke="#161616" stroke-width="2.3" />
<line x1="817.33" y1="459.50" x2="817.33" y2="465.00" stroke="#161616" stroke-width="2.3" />
<line x1="817.33" y1="14.50" x2="817.33" y2="20.00" stroke="#161616" stroke-width="2.3" />
<line x1="844.68" y1="459.50" x2="844.68" y2="469.50" stroke="#161616" stroke-width="2.3" />
<line x1="844.68" y1="14.50" x2="844.68" y2="24.50" stroke="#161616" stroke-width="2.3" />
<line x1="872.02" y1="459.50" x2="872.02" y2="465.00" stroke="#161616" stroke-width="2.3" />
<line x1="872.02" y1="14.50" x2="872.02" y2="20.00" stroke="#161616" stroke-width="2.3" />
<line x1="899.37" y1="459.50" x2="899.37" y2="469.50" stroke="#161616" stroke-width="2.3" />
<line x1="899.37" y1="14.50" x2="899.37" y2="24.50" stroke="#161616" stroke-width="2.3" />
<line x1="926.71" y1="459.50" x2="926.71" y2="465.00" stroke="#161616" stroke-width="2.3" />
<line x1="926.71" y1="14.50" x2="926.71" y2="20.00" stroke="#161616" stroke-width="2.3" />
<line x1="954.06" y1="459.50" x2="954.06" y2="469.50" stroke="#161616" stroke-width="2.3" />
<line x1="954.06" y1="14.50" x2="954.06" y2="24.50" stroke="#161616" stroke-width="2.3" />
<line x1="981.40" y1="459.50" x2="981.40" y2="465.00" stroke="#161616" stroke-width="2.3" />
<line x1="981.40" y1="14.50" x2="981.40" y2="20.00" stroke="#161616" stroke-width="2.3" />
<line x1="1008.75" y1="459.50" x2="1008.75" y2="469.50" stroke="#161616" stroke-width="2.3" />
<line x1="1008.75" y1="14.50" x2="1008.75" y2="24.50" stroke="#161616" stroke-width="2.3" />
<line x1="1036.09" y1="459.50" x2="1036.09" y2="465.00" stroke="#161616" stroke-width="2.3" />
<line x1="1036.09" y1="14.50" x2="1036.09" y2="20.00" stroke="#161616" stroke-width="2.3" />
<line x1="1063.44" y1="459.50" x2="1063.44" y2="469.50" stroke="#161616" stroke-width="2.3" />
<line x1="1063.44" y1="14.50" x2="1063.44" y2="24.50" stroke="#161616" stroke-width="2.3" />
<line x1="1090.78" y1="459.50" x2="1090.78" y2="465.00" stroke="#161616" stroke-width="2.3" />
<line x1="1090.78" y1="14.50" x2="1090.78" y2="20.00" stroke="#161616" stroke-width="2.3" />
<line x1="1118.13" y1="459.50" x2="1118.13" y2="469.50" stroke="#161616" stroke-width="2.3" />
<line x1="1118.13" y1="14.50" x2="1118.13" y2="24.50" stroke="#161616" stroke-width="2.3" />
<line x1="1145.47" y1="459.50" x2="1145.47" y2="465.00" stroke="#161616" stroke-width="2.3" />
<line x1="1145.47" y1="14.50" x2="1145.47" y2="20.00" stroke="#161616" stroke-width="2.3" />
<line x1="1172.82" y1="459.50" x2="1172.82" y2="469.50" stroke="#161616" stroke-width="2.3" />
<line x1="1172.82" y1="14.50" x2="1172.82" y2="24.50" stroke="#161616" stroke-width="2.3" />
<line x1="1200.16" y1="459.50" x2="1200.16" y2="465.00" stroke="#161616" stroke-width="2.3" />
<line x1="1200.16" y1="14.50" x2="1200.16" y2="20.00" stroke="#161616" stroke-width="2.3" />
<line x1="1227.51" y1="459.50" x2="1227.51" y2="469.50" stroke="#161616" stroke-width="2.3" />
<line x1="1227.51" y1="14.50" x2="1227.51" y2="24.50" stroke="#161616" stroke-width="2.3" />
<line x1="1254.86" y1="459.50" x2="1254.86" y2="465.00" stroke="#161616" stroke-width="2.3" />
<line x1="1254.86" y1="14.50" x2="1254.86" y2="20.00" stroke="#161616" stroke-width="2.3" />
<line x1="1282.20" y1="459.50" x2="1282.20" y2="469.50" stroke="#161616" stroke-width="2.3" />
<line x1="1282.20" y1="14.50" x2="1282.20" y2="24.50" stroke="#161616" stroke-width="2.3" />
<text x="0" y="0" transform="translate(693.00 467.30) scale(0.95 1)" font-family='"Liberation Sans", sans-serif' font-size="28.5" font-weight="bold" text-anchor="end" fill="#161616" >40</text>
<text x="0" y="0" transform="translate(693.00 393.13) scale(0.95 1)" font-family='"Liberation Sans", sans-serif' font-size="28.5" font-weight="bold" text-anchor="end" fill="#161616" >50</text>
<text x="0" y="0" transform="translate(693.00 318.97) scale(0.95 1)" font-family='"Liberation Sans", sans-serif' font-size="28.5" font-weight="bold" text-anchor="end" fill="#161616" >60</text>
<text x="0" y="0" transform="translate(693.00 244.80) scale(0.95 1)" font-family='"Liberation Sans", sans-serif' font-size="28.5" font-weight="bold" text-anchor="end" fill="#161616" >70</text>
<text x="0" y="0" transform="translate(693.00 170.63) scale(0.95 1)" font-family='"Liberation Sans", sans-serif' font-size="28.5" font-weight="bold" text-anchor="end" fill="#161616" >80</text>
<text x="0" y="0" transform="translate(693.00 96.47) scale(0.95 1)" font-family='"Liberation Sans", sans-serif' font-size="28.5" font-weight="bold" text-anchor="end" fill="#161616" >90</text>
<text x="0" y="0" transform="translate(693.00 22.30) scale(0.95 1)" font-family='"Liberation Sans", sans-serif' font-size="28.5" font-weight="bold" text-anchor="end" fill="#161616" >100</text>
<text x="0" y="0" transform="translate(735.30 497.80) scale(0.93 1)" font-family='"Liberation Sans", sans-serif' font-size="29.5" font-weight="bold" text-anchor="middle" fill="#161616" >2</text>
<text x="0" y="0" transform="translate(789.99 497.80) scale(0.93 1)" font-family='"Liberation Sans", sans-serif' font-size="29.5" font-weight="bold" text-anchor="middle" fill="#161616" >4</text>
<text x="0" y="0" transform="translate(844.68 497.80) scale(0.93 1)" font-family='"Liberation Sans", sans-serif' font-size="29.5" font-weight="bold" text-anchor="middle" fill="#161616" >6</text>
<text x="0" y="0" transform="translate(899.37 497.80) scale(0.93 1)" font-family='"Liberation Sans", sans-serif' font-size="29.5" font-weight="bold" text-anchor="middle" fill="#161616" >8</text>
<text x="0" y="0" transform="translate(954.06 497.80) scale(0.93 1)" font-family='"Liberation Sans", sans-serif' font-size="29.5" font-weight="bold" text-anchor="middle" fill="#161616" >10</text>
<text x="0" y="0" transform="translate(1008.75 497.80) scale(0.93 1)" font-family='"Liberation Sans", sans-serif' font-size="29.5" font-weight="bold" text-anchor="middle" fill="#161616" >12</text>
<text x="0" y="0" transform="translate(1063.44 497.80) scale(0.93 1)" font-family='"Liberation Sans", sans-serif' font-size="29.5" font-weight="bold" text-anchor="middle" fill="#161616" >14</text>
<text x="0" y="0" transform="translate(1118.13 497.80) scale(0.93 1)" font-family='"Liberation Sans", sans-serif' font-size="29.5" font-weight="bold" text-anchor="middle" fill="#161616" >16</text>
<text x="0" y="0" transform="translate(1172.82 497.80) scale(0.93 1)" font-family='"Liberation Sans", sans-serif' font-size="29.5" font-weight="bold" text-anchor="middle" fill="#161616" >18</text>
<text x="0" y="0" transform="translate(1227.51 497.80) scale(0.93 1)" font-family='"Liberation Sans", sans-serif' font-size="29.5" font-weight="bold" text-anchor="middle" fill="#161616" >20</text>
<text x="0" y="0" transform="translate(1282.20 497.80) scale(0.93 1)" font-family='"Liberation Sans", sans-serif' font-size="29.5" font-weight="bold" text-anchor="middle" fill="#161616" >22</text>
<text x="0" y="0" transform="translate(621.20 420.80) rotate(-90)" font-family='"Liberation Sans", sans-serif' font-size="37.3" font-weight="bold" text-anchor="start" fill="#161616" >Transmittance (%)</text>
<text x="840.40" y="554.00" font-family='"Liberation Sans", sans-serif' font-size="35.5" font-weight="bold" text-anchor="start" fill="#161616" >Ag thickness (nm)</text>
<text x="731.90" y="62.50" font-family='"Liberation Serif", serif' font-size="35" font-weight="bold" text-anchor="start" fill="#161616" >(b)</text>
<line x1="1038.00" y1="49.60" x2="1109.50" y2="49.60" stroke="#444" stroke-width="1.8" />
<circle cx="1074.00" cy="49.30" r="11.2" fill="#fff" stroke="#161616" stroke-width="2.2"/>
<text x="1118.60" y="60.20" font-family='"Liberation Sans", sans-serif' font-size="30.8" font-weight="normal" text-anchor="start" fill="#161616" stroke="#161616" stroke-width="0.5">λ=550nm</text>
</g>
<g id="panel-c">
<line x1="394.15" y1="787.26" x2="443.85" y2="928.84" stroke="#161616" stroke-width="2.4" />
<line x1="454.72" y1="943.33" x2="495.78" y2="972.77" stroke="#161616" stroke-width="2.4" />
<line x1="511.93" y1="982.68" x2="550.57" y2="1002.72" stroke="#161616" stroke-width="2.4" />
<line x1="568.05" y1="1009.97" x2="718.15" y2="1057.63" stroke="#161616" stroke-width="2.4" />
<line x1="736.55" y1="1062.16" x2="858.65" y2="1083.84" stroke="#161616" stroke-width="2.4" />
<polyline points="391.00,1041.00 447.00,850.30 503.50,905.00 559.00,887.70 727.20,810.30 868.00,697.00" fill="none" stroke="#161616" stroke-width="2.7" stroke-linejoin="round" />
<polyline points="390.70,839.70 447.30,909.50 503.50,953.50 559.00,982.30 727.20,1044.50 867.40,1046.30" fill="none" stroke="#161616" stroke-width="2.9" stroke-linejoin="round" />
<rect x="384.50" y="771.80" width="13.0" height="13.0" fill="#161616" stroke="#161616" stroke-width="1"/>
<rect x="440.50" y="931.30" width="13.0" height="13.0" fill="#161616" stroke="#161616" stroke-width="1"/>
<rect x="497.00" y="971.80" width="13.0" height="13.0" fill="#161616" stroke="#161616" stroke-width="1"/>
<rect x="552.50" y="1000.60" width="13.0" height="13.0" fill="#161616" stroke="#161616" stroke-width="1"/>
<rect x="720.70" y="1054.00" width="13.0" height="13.0" fill="#161616" stroke="#161616" stroke-width="1"/>
<rect x="861.50" y="1079.00" width="13.0" height="13.0" fill="#161616" stroke="#161616" stroke-width="1"/>
<polygon points="391.00,1029.50 401.50,1048.00 380.50,1048.00" fill="#fff" stroke="#161616" stroke-width="2.0"/>
<polygon points="447.00,838.80 457.50,857.30 436.50,857.30" fill="#fff" stroke="#161616" stroke-width="2.0"/>
<polygon points="503.50,893.50 514.00,912.00 493.00,912.00" fill="#fff" stroke="#161616" stroke-width="2.0"/>
<polygon points="559.00,876.20 569.50,894.70 548.50,894.70" fill="#fff" stroke="#161616" stroke-width="2.0"/>
<polygon points="727.20,798.80 737.70,817.30 716.70,817.30" fill="#fff" stroke="#161616" stroke-width="2.0"/>
<polygon points="868.00,685.50 878.50,704.00 857.50,704.00" fill="#fff" stroke="#161616" stroke-width="2.0"/>
<ellipse cx="390.70" cy="839.70" rx="8.4" ry="9.2" fill="#fff" stroke="#161616" stroke-width="2.6"/>
<ellipse cx="447.30" cy="909.50" rx="8.4" ry="9.2" fill="#fff" stroke="#161616" stroke-width="2.6"/>
<ellipse cx="503.50" cy="953.50" rx="8.4" ry="9.2" fill="#fff" stroke="#161616" stroke-width="2.6"/>
<ellipse cx="559.00" cy="982.30" rx="8.4" ry="9.2" fill="#fff" stroke="#161616" stroke-width="2.6"/>
<ellipse cx="727.20" cy="1044.50" rx="8.4" ry="9.2" fill="#fff" stroke="#161616" stroke-width="2.6"/>
<ellipse cx="867.40" cy="1046.30" rx="8.4" ry="9.2" fill="#fff" stroke="#161616" stroke-width="2.6"/>
<line x1="364.00" y1="651.00" x2="364.00" y2="1118.00" stroke="#161616" stroke-width="2.6" />
<line x1="363.00" y1="1117.00" x2="926.30" y2="1117.00" stroke="#161616" stroke-width="2.6" />
<line x1="364.00" y1="652.00" x2="925.30" y2="652.00" stroke="#161616" stroke-width="2.4" />
<line x1="925.30" y1="651.00" x2="925.30" y2="1118.00" stroke="#161616" stroke-width="2.6" />
<line x1="354.00" y1="1117.00" x2="364.00" y2="1117.00" stroke="#161616" stroke-width="2.2" />
<line x1="358.20" y1="1087.94" x2="364.00" y2="1087.94" stroke="#161616" stroke-width="2.2" />
<line x1="354.00" y1="1058.88" x2="364.00" y2="1058.88" stroke="#161616" stroke-width="2.2" />
<line x1="358.20" y1="1029.81" x2="364.00" y2="1029.81" stroke="#161616" stroke-width="2.2" />
<line x1="354.00" y1="1000.75" x2="364.00" y2="1000.75" stroke="#161616" stroke-width="2.2" />
<line x1="358.20" y1="971.69" x2="364.00" y2="971.69" stroke="#161616" stroke-width="2.2" />
<line x1="354.00" y1="942.62" x2="364.00" y2="942.62" stroke="#161616" stroke-width="2.2" />
<line x1="358.20" y1="913.56" x2="364.00" y2="913.56" stroke="#161616" stroke-width="2.2" />
<line x1="354.00" y1="884.50" x2="364.00" y2="884.50" stroke="#161616" stroke-width="2.2" />
<line x1="358.20" y1="855.44" x2="364.00" y2="855.44" stroke="#161616" stroke-width="2.2" />
<line x1="354.00" y1="826.38" x2="364.00" y2="826.38" stroke="#161616" stroke-width="2.2" />
<line x1="358.20" y1="797.31" x2="364.00" y2="797.31" stroke="#161616" stroke-width="2.2" />
<line x1="354.00" y1="768.25" x2="364.00" y2="768.25" stroke="#161616" stroke-width="2.2" />
<line x1="358.20" y1="739.19" x2="364.00" y2="739.19" stroke="#161616" stroke-width="2.2" />
<line x1="354.00" y1="710.12" x2="364.00" y2="710.12" stroke="#161616" stroke-width="2.2" />
<line x1="358.20" y1="681.06" x2="364.00" y2="681.06" stroke="#161616" stroke-width="2.2" />
<line x1="354.00" y1="652.00" x2="364.00" y2="652.00" stroke="#161616" stroke-width="2.2" />
<line x1="925.30" y1="1117.00" x2="935.30" y2="1117.00" stroke="#161616" stroke-width="2.2" />
<line x1="925.30" y1="1083.79" x2="931.10" y2="1083.79" stroke="#161616" stroke-width="2.2" />
<line x1="925.30" y1="1050.57" x2="935.30" y2="1050.57" stroke="#161616" stroke-width="2.2" />
<line x1="925.30" y1="1017.36" x2="931.10" y2="1017.36" stroke="#161616" stroke-width="2.2" />
<line x1="925.30" y1="984.14" x2="935.30" y2="984.14" stroke="#161616" stroke-width="2.2" />
<line x1="925.30" y1="950.93" x2="931.10" y2="950.93" stroke="#161616" stroke-width="2.2" />
<line x1="925.30" y1="917.71" x2="935.30" y2="917.71" stroke="#161616" stroke-width="2.2" />
<line x1="925.30" y1="884.50" x2="931.10" y2="884.50" stroke="#161616" stroke-width="2.2" />
<line x1="925.30" y1="851.29" x2="935.30" y2="851.29" stroke="#161616" stroke-width="2.2" />
<line x1="925.30" y1="818.07" x2="931.10" y2="818.07" stroke="#161616" stroke-width="2.2" />
<line x1="925.30" y1="784.86" x2="935.30" y2="784.86" stroke="#161616" stroke-width="2.2" />
<line x1="925.30" y1="751.64" x2="931.10" y2="751.64" stroke="#161616" stroke-width="2.2" />
<line x1="925.30" y1="718.43" x2="935.30" y2="718.43" stroke="#161616" stroke-width="2.2" />
<line x1="925.30" y1="685.21" x2="931.10" y2="685.21" stroke="#161616" stroke-width="2.2" />
<line x1="925.30" y1="652.00" x2="935.30" y2="652.00" stroke="#161616" stroke-width="2.2" />
<line x1="363.20" y1="1117.00" x2="363.20" y2="1127.80" stroke="#161616" stroke-width="2.2" />
<line x1="363.20" y1="652.00" x2="363.20" y2="663.50" stroke="#161616" stroke-width="2.2" />
<line x1="391.20" y1="1117.00" x2="391.20" y2="1123.00" stroke="#161616" stroke-width="2.2" />
<line x1="391.20" y1="652.00" x2="391.20" y2="657.50" stroke="#161616" stroke-width="2.2" />
<line x1="419.20" y1="1117.00" x2="419.20" y2="1127.80" stroke="#161616" stroke-width="2.2" />
<line x1="419.20" y1="652.00" x2="419.20" y2="663.50" stroke="#161616" stroke-width="2.2" />
<line x1="447.20" y1="1117.00" x2="447.20" y2="1123.00" stroke="#161616" stroke-width="2.2" />
<line x1="447.20" y1="652.00" x2="447.20" y2="657.50" stroke="#161616" stroke-width="2.2" />
<line x1="475.20" y1="1117.00" x2="475.20" y2="1127.80" stroke="#161616" stroke-width="2.2" />
<line x1="475.20" y1="652.00" x2="475.20" y2="663.50" stroke="#161616" stroke-width="2.2" />
<line x1="503.20" y1="1117.00" x2="503.20" y2="1123.00" stroke="#161616" stroke-width="2.2" />
<line x1="503.20" y1="652.00" x2="503.20" y2="657.50" stroke="#161616" stroke-width="2.2" />
<line x1="531.20" y1="1117.00" x2="531.20" y2="1127.80" stroke="#161616" stroke-width="2.2" />
<line x1="531.20" y1="652.00" x2="531.20" y2="663.50" stroke="#161616" stroke-width="2.2" />
<line x1="559.20" y1="1117.00" x2="559.20" y2="1123.00" stroke="#161616" stroke-width="2.2" />
<line x1="559.20" y1="652.00" x2="559.20" y2="657.50" stroke="#161616" stroke-width="2.2" />
<line x1="587.20" y1="1117.00" x2="587.20" y2="1127.80" stroke="#161616" stroke-width="2.2" />
<line x1="587.20" y1="652.00" x2="587.20" y2="663.50" stroke="#161616" stroke-width="2.2" />
<line x1="615.20" y1="1117.00" x2="615.20" y2="1123.00" stroke="#161616" stroke-width="2.2" />
<line x1="615.20" y1="652.00" x2="615.20" y2="657.50" stroke="#161616" stroke-width="2.2" />
<line x1="643.20" y1="1117.00" x2="643.20" y2="1127.80" stroke="#161616" stroke-width="2.2" />
<line x1="643.20" y1="652.00" x2="643.20" y2="663.50" stroke="#161616" stroke-width="2.2" />
<line x1="671.20" y1="1117.00" x2="671.20" y2="1123.00" stroke="#161616" stroke-width="2.2" />
<line x1="671.20" y1="652.00" x2="671.20" y2="657.50" stroke="#161616" stroke-width="2.2" />
<line x1="699.20" y1="1117.00" x2="699.20" y2="1127.80" stroke="#161616" stroke-width="2.2" />
<line x1="699.20" y1="652.00" x2="699.20" y2="663.50" stroke="#161616" stroke-width="2.2" />
<line x1="727.20" y1="1117.00" x2="727.20" y2="1123.00" stroke="#161616" stroke-width="2.2" />
<line x1="727.20" y1="652.00" x2="727.20" y2="657.50" stroke="#161616" stroke-width="2.2" />
<line x1="755.20" y1="1117.00" x2="755.20" y2="1127.80" stroke="#161616" stroke-width="2.2" />
<line x1="755.20" y1="652.00" x2="755.20" y2="663.50" stroke="#161616" stroke-width="2.2" />
<line x1="783.20" y1="1117.00" x2="783.20" y2="1123.00" stroke="#161616" stroke-width="2.2" />
<line x1="783.20" y1="652.00" x2="783.20" y2="657.50" stroke="#161616" stroke-width="2.2" />
<line x1="811.20" y1="1117.00" x2="811.20" y2="1127.80" stroke="#161616" stroke-width="2.2" />
<line x1="811.20" y1="652.00" x2="811.20" y2="663.50" stroke="#161616" stroke-width="2.2" />
<line x1="839.20" y1="1117.00" x2="839.20" y2="1123.00" stroke="#161616" stroke-width="2.2" />
<line x1="839.20" y1="652.00" x2="839.20" y2="657.50" stroke="#161616" stroke-width="2.2" />
<line x1="867.20" y1="1117.00" x2="867.20" y2="1127.80" stroke="#161616" stroke-width="2.2" />
<line x1="867.20" y1="652.00" x2="867.20" y2="663.50" stroke="#161616" stroke-width="2.2" />
<line x1="895.20" y1="1117.00" x2="895.20" y2="1123.00" stroke="#161616" stroke-width="2.2" />
<line x1="895.20" y1="652.00" x2="895.20" y2="657.50" stroke="#161616" stroke-width="2.2" />
<line x1="923.20" y1="1117.00" x2="923.20" y2="1127.80" stroke="#161616" stroke-width="2.2" />
<line x1="923.20" y1="652.00" x2="923.20" y2="663.50" stroke="#161616" stroke-width="2.2" />
<text x="349.50" y="1127.50" font-family='"Liberation Sans", sans-serif' font-size="28" font-weight="bold" text-anchor="end" fill="#161616" >-20</text>
<text x="349.50" y="1069.07" font-family='"Liberation Sans", sans-serif' font-size="28" font-weight="bold" text-anchor="end" fill="#161616" >-15</text>
<text x="349.50" y="1010.65" font-family='"Liberation Sans", sans-serif' font-size="28" font-weight="bold" text-anchor="end" fill="#161616" >-10</text>
<text x="349.50" y="952.23" font-family='"Liberation Sans", sans-serif' font-size="28" font-weight="bold" text-anchor="end" fill="#161616" >-5</text>
<text x="349.50" y="893.80" font-family='"Liberation Sans", sans-serif' font-size="28" font-weight="bold" text-anchor="end" fill="#161616" >0</text>
<text x="349.50" y="835.38" font-family='"Liberation Sans", sans-serif' font-size="28" font-weight="bold" text-anchor="end" fill="#161616" >5</text>
<text x="349.50" y="776.95" font-family='"Liberation Sans", sans-serif' font-size="28" font-weight="bold" text-anchor="end" fill="#161616" >10</text>
<text x="349.50" y="718.52" font-family='"Liberation Sans", sans-serif' font-size="28" font-weight="bold" text-anchor="end" fill="#161616" >15</text>
<text x="349.50" y="660.10" font-family='"Liberation Sans", sans-serif' font-size="28" font-weight="bold" text-anchor="end" fill="#161616" >20</text>
<text x="937.50" y="1125.30" font-family='"Liberation Sans", sans-serif' font-size="28" font-weight="bold" text-anchor="start" fill="#161616" >-5</text>
<text x="939.50" y="1058.87" font-family='"Liberation Sans", sans-serif' font-size="28" font-weight="bold" text-anchor="start" fill="#161616" >0</text>
<text x="939.50" y="992.44" font-family='"Liberation Sans", sans-serif' font-size="28" font-weight="bold" text-anchor="start" fill="#161616" >5</text>
<text x="939.50" y="926.01" font-family='"Liberation Sans", sans-serif' font-size="28" font-weight="bold" text-anchor="start" fill="#161616" >10</text>
<text x="939.50" y="859.59" font-family='"Liberation Sans", sans-serif' font-size="28" font-weight="bold" text-anchor="start" fill="#161616" >15</text>
<text x="939.50" y="793.16" font-family='"Liberation Sans", sans-serif' font-size="28" font-weight="bold" text-anchor="start" fill="#161616" >20</text>
<text x="939.50" y="726.73" font-family='"Liberation Sans", sans-serif' font-size="28" font-weight="bold" text-anchor="start" fill="#161616" >25</text>
<text x="939.50" y="660.30" font-family='"Liberation Sans", sans-serif' font-size="28" font-weight="bold" text-anchor="start" fill="#161616" >30</text>
<text x="363.20" y="1153.40" font-family='"Liberation Sans", sans-serif' font-size="28" font-weight="bold" text-anchor="middle" fill="#161616" >2</text>
<text x="419.20" y="1153.40" font-family='"Liberation Sans", sans-serif' font-size="28" font-weight="bold" text-anchor="middle" fill="#161616" >4</text>
<text x="475.20" y="1153.40" font-family='"Liberation Sans", sans-serif' font-size="28" font-weight="bold" text-anchor="middle" fill="#161616" >6</text>
<text x="531.20" y="1153.40" font-family='"Liberation Sans", sans-serif' font-size="28" font-weight="bold" text-anchor="middle" fill="#161616" >8</text>
<text x="587.20" y="1153.40" font-family='"Liberation Sans", sans-serif' font-size="28" font-weight="bold" text-anchor="middle" fill="#161616" >10</text>
<text x="643.20" y="1153.40" font-family='"Liberation Sans", sans-serif' font-size="28" font-weight="bold" text-anchor="middle" fill="#161616" >12</text>
<text x="699.20" y="1153.40" font-family='"Liberation Sans", sans-serif' font-size="28" font-weight="bold" text-anchor="middle" fill="#161616" >14</text>
<text x="755.20" y="1153.40" font-family='"Liberation Sans", sans-serif' font-size="28" font-weight="bold" text-anchor="middle" fill="#161616" >16</text>
<text x="811.20" y="1153.40" font-family='"Liberation Sans", sans-serif' font-size="28" font-weight="bold" text-anchor="middle" fill="#161616" >18</text>
<text x="867.20" y="1153.40" font-family='"Liberation Sans", sans-serif' font-size="28" font-weight="bold" text-anchor="middle" fill="#161616" >20</text>
<text x="923.20" y="1153.40" font-family='"Liberation Sans", sans-serif' font-size="28" font-weight="bold" text-anchor="middle" fill="#161616" >22</text>
<line x1="1040.40" y1="651.00" x2="1040.40" y2="1118.50" stroke="#161616" stroke-width="3.2" />
<line x1="1030.90" y1="1117.50" x2="1040.40" y2="1117.50" stroke="#161616" stroke-width="2.0" />
<line x1="1036.40" y1="1075.15" x2="1040.40" y2="1075.15" stroke="#161616" stroke-width="2.0" />
<line x1="1036.40" y1="1050.37" x2="1040.40" y2="1050.37" stroke="#161616" stroke-width="2.0" />
<line x1="1036.40" y1="1032.79" x2="1040.40" y2="1032.79" stroke="#161616" stroke-width="2.0" />
<line x1="1036.40" y1="1019.15" x2="1040.40" y2="1019.15" stroke="#161616" stroke-width="2.0" />
<line x1="1036.40" y1="1008.01" x2="1040.40" y2="1008.01" stroke="#161616" stroke-width="2.0" />
<line x1="1036.40" y1="998.59" x2="1040.40" y2="998.59" stroke="#161616" stroke-width="2.0" />
<line x1="1036.40" y1="990.44" x2="1040.40" y2="990.44" stroke="#161616" stroke-width="2.0" />
<line x1="1036.40" y1="983.24" x2="1040.40" y2="983.24" stroke="#161616" stroke-width="2.0" />
<line x1="1030.90" y1="976.80" x2="1040.40" y2="976.80" stroke="#161616" stroke-width="2.0" />
<line x1="1036.40" y1="934.45" x2="1040.40" y2="934.45" stroke="#161616" stroke-width="2.0" />
<line x1="1036.40" y1="909.67" x2="1040.40" y2="909.67" stroke="#161616" stroke-width="2.0" />
<line x1="1036.40" y1="892.09" x2="1040.40" y2="892.09" stroke="#161616" stroke-width="2.0" />
<line x1="1036.40" y1="878.45" x2="1040.40" y2="878.45" stroke="#161616" stroke-width="2.0" />
<line x1="1036.40" y1="867.31" x2="1040.40" y2="867.31" stroke="#161616" stroke-width="2.0" />
<line x1="1036.40" y1="857.89" x2="1040.40" y2="857.89" stroke="#161616" stroke-width="2.0" />
<line x1="1036.40" y1="849.74" x2="1040.40" y2="849.74" stroke="#161616" stroke-width="2.0" />
<line x1="1036.40" y1="842.54" x2="1040.40" y2="842.54" stroke="#161616" stroke-width="2.0" />
<line x1="1030.90" y1="836.10" x2="1040.40" y2="836.10" stroke="#161616" stroke-width="2.0" />
<line x1="1036.40" y1="793.75" x2="1040.40" y2="793.75" stroke="#161616" stroke-width="2.0" />
<line x1="1036.40" y1="768.97" x2="1040.40" y2="768.97" stroke="#161616" stroke-width="2.0" />
<line x1="1036.40" y1="751.39" x2="1040.40" y2="751.39" stroke="#161616" stroke-width="2.0" />
<line x1="1036.40" y1="737.75" x2="1040.40" y2="737.75" stroke="#161616" stroke-width="2.0" />
<line x1="1036.40" y1="726.61" x2="1040.40" y2="726.61" stroke="#161616" stroke-width="2.0" />
<line x1="1036.40" y1="717.19" x2="1040.40" y2="717.19" stroke="#161616" stroke-width="2.0" />
<line x1="1036.40" y1="709.04" x2="1040.40" y2="709.04" stroke="#161616" stroke-width="2.0" />
<line x1="1036.40" y1="701.84" x2="1040.40" y2="701.84" stroke="#161616" stroke-width="2.0" />
<line x1="1030.90" y1="695.40" x2="1040.40" y2="695.40" stroke="#161616" stroke-width="2.0" />
<line x1="1036.40" y1="653.05" x2="1040.40" y2="653.05" stroke="#161616" stroke-width="2.0" />
<text transform="translate(1050 704.90) scale(0.93 1)" font-family='"Liberation Sans", sans-serif' font-weight="bold" font-size="29" fill="#161616">10<tspan font-size="16" dy="-18" dx="2">-2</tspan></text>
<text transform="translate(1050 845.60) scale(0.93 1)" font-family='"Liberation Sans", sans-serif' font-weight="bold" font-size="29" fill="#161616">10<tspan font-size="16" dy="-18" dx="2">-3</tspan></text>
<text transform="translate(1050 986.30) scale(0.93 1)" font-family='"Liberation Sans", sans-serif' font-weight="bold" font-size="29" fill="#161616">10<tspan font-size="16" dy="-18" dx="2">-4</tspan></text>
<text transform="translate(1050 1127.00) scale(0.93 1)" font-family='"Liberation Sans", sans-serif' font-weight="bold" font-size="29" fill="#161616">10<tspan font-size="16" dy="-18" dx="2">-5</tspan></text>
<text transform="translate(296 1180) rotate(-90)" font-family='"Liberation Sans", sans-serif' font-weight="bold" font-size="38" fill="#161616">Carrier Concentration<tspan dx="6">(</tspan><tspan dx="21">x</tspan><tspan font-family='"Liberation Serif", serif' font-weight="bold" font-size="36" letter-spacing="2.5" dx="-3">10</tspan><tspan font-family='"Liberation Serif", serif' font-weight="bold" font-size="14" dy="-25" dx="-1">21</tspan><tspan dy="25" dx="0">/cm</tspan><tspan font-size="15" dy="-16" dx="3">3</tspan><tspan dy="16" dx="3">)</tspan></text>
<text transform="translate(1008 1026.7) rotate(-90) scale(0.978 1)" font-family='"Liberation Sans", sans-serif' font-weight="bold" font-size="38" fill="#161616">Mobility (cm<tspan font-size="20" dy="-18">3</tspan><tspan dy="18">/vs)</tspan></text>
<text x="0" y="0" transform="translate(1124.70 1034.90) rotate(-90) scale(0.945 1)" font-family='"Liberation Sans", sans-serif' font-size="38" font-weight="bold" text-anchor="start" fill="#161616" >Resistivity (Ω-cm)</text>
<text x="0" y="0" transform="translate(492.80 1215.30) scale(0.94 1)" font-family='"Liberation Sans", sans-serif' font-size="38" font-weight="bold" text-anchor="start" fill="#161616" letter-spacing="-0.62">Ag thickness (nm)</text>
<text x="384.30" y="702.00" font-family='"Liberation Serif", serif' font-size="35" font-weight="bold" text-anchor="start" fill="#161616" >(c)</text>
<line x1="351.60" y1="610.00" x2="402.50" y2="610.00" stroke="#161616" stroke-width="3.0" />
<ellipse cx="376.5" cy="609.5" rx="7.6" ry="8.8" fill="#fff" stroke="#161616" stroke-width="2.0"/>
<text x="414.00" y="617.50" font-family='"Liberation Sans", sans-serif' font-size="22" font-weight="normal" text-anchor="start" fill="#161616" stroke="#161616" stroke-width="0.55">Carrier concentration</text>
<line x1="626.80" y1="610.00" x2="677.70" y2="610.00" stroke="#161616" stroke-width="2.8" />
<polygon points="652.8,597 663.8,616.5 641.8,616.5" fill="#fff" stroke="#161616" stroke-width="1.6"/>
<text x="689.30" y="617.50" font-family='"Liberation Sans", sans-serif' font-size="22" font-weight="normal" text-anchor="start" fill="#161616" stroke="#161616" stroke-width="0.55">Mobility</text>
<line x1="770.20" y1="610.00" x2="821.00" y2="610.00" stroke="#444" stroke-width="1.5" />
<rect x="788.00" y="602.30" width="14.4" height="14.4" fill="#161616" stroke="#161616" stroke-width="1"/>
<text x="827.60" y="617.50" font-family='"Liberation Sans", sans-serif' font-size="22.4" font-weight="normal" text-anchor="start" fill="#161616" stroke="#161616" stroke-width="0.55">Resistivity</text>
</g>
<g id="panel-d">
<line x1="420.63" y1="1618.73" x2="465.97" y2="1481.97" stroke="#161616" stroke-width="2.1" />
<line x1="475.78" y1="1459.07" x2="517.22" y2="1381.43" stroke="#161616" stroke-width="2.1" />
<line x1="531.00" y1="1360.72" x2="568.50" y2="1314.78" stroke="#161616" stroke-width="2.1" />
<line x1="588.43" y1="1308.49" x2="723.07" y2="1346.41" stroke="#161616" stroke-width="2.1" />
<line x1="745.19" y1="1357.18" x2="858.31" y2="1439.92" stroke="#161616" stroke-width="2.1" />
<circle cx="416.70" cy="1630.60" r="9.0" fill="#fff" stroke="#161616" stroke-width="2.1"/>
<circle cx="469.90" cy="1470.10" r="9.0" fill="#fff" stroke="#161616" stroke-width="2.1"/>
<circle cx="523.10" cy="1370.40" r="9.0" fill="#fff" stroke="#161616" stroke-width="2.1"/>
<circle cx="576.40" cy="1305.10" r="9.0" fill="#fff" stroke="#161616" stroke-width="2.1"/>
<circle cx="735.10" cy="1349.80" r="9.0" fill="#fff" stroke="#161616" stroke-width="2.1"/>
<circle cx="868.40" cy="1447.30" r="9.0" fill="#fff" stroke="#161616" stroke-width="2.1"/>
<line x1="363.50" y1="1266.00" x2="363.50" y2="1699.50" stroke="#161616" stroke-width="2.8" />
<line x1="362.50" y1="1698.30" x2="922.00" y2="1698.30" stroke="#161616" stroke-width="3.4" />
<line x1="363.50" y1="1267.00" x2="921.00" y2="1267.00" stroke="#161616" stroke-width="2.5" />
<line x1="921.00" y1="1266.00" x2="921.00" y2="1699.50" stroke="#161616" stroke-width="2.6" />
<line x1="354.50" y1="1698.30" x2="363.50" y2="1698.30" stroke="#161616" stroke-width="2.0" />
<line x1="359.00" y1="1652.42" x2="363.50" y2="1652.42" stroke="#161616" stroke-width="2.0" />
<line x1="359.00" y1="1625.59" x2="363.50" y2="1625.59" stroke="#161616" stroke-width="2.0" />
<line x1="359.00" y1="1606.55" x2="363.50" y2="1606.55" stroke="#161616" stroke-width="2.0" />
<line x1="359.00" y1="1591.78" x2="363.50" y2="1591.78" stroke="#161616" stroke-width="2.0" />
<line x1="359.00" y1="1579.71" x2="363.50" y2="1579.71" stroke="#161616" stroke-width="2.0" />
<line x1="359.00" y1="1569.51" x2="363.50" y2="1569.51" stroke="#161616" stroke-width="2.0" />
<line x1="359.00" y1="1560.67" x2="363.50" y2="1560.67" stroke="#161616" stroke-width="2.0" />
<line x1="359.00" y1="1552.87" x2="363.50" y2="1552.87" stroke="#161616" stroke-width="2.0" />
<line x1="354.50" y1="1545.90" x2="363.50" y2="1545.90" stroke="#161616" stroke-width="2.0" />
<line x1="359.00" y1="1500.02" x2="363.50" y2="1500.02" stroke="#161616" stroke-width="2.0" />
<line x1="359.00" y1="1473.19" x2="363.50" y2="1473.19" stroke="#161616" stroke-width="2.0" />
<line x1="359.00" y1="1454.15" x2="363.50" y2="1454.15" stroke="#161616" stroke-width="2.0" />
<line x1="359.00" y1="1439.38" x2="363.50" y2="1439.38" stroke="#161616" stroke-width="2.0" />
<line x1="359.00" y1="1427.31" x2="363.50" y2="1427.31" stroke="#161616" stroke-width="2.0" />
<line x1="359.00" y1="1417.11" x2="363.50" y2="1417.11" stroke="#161616" stroke-width="2.0" />
<line x1="359.00" y1="1408.27" x2="363.50" y2="1408.27" stroke="#161616" stroke-width="2.0" />
<line x1="359.00" y1="1400.47" x2="363.50" y2="1400.47" stroke="#161616" stroke-width="2.0" />
<line x1="354.50" y1="1393.50" x2="363.50" y2="1393.50" stroke="#161616" stroke-width="2.0" />
<line x1="359.00" y1="1347.62" x2="363.50" y2="1347.62" stroke="#161616" stroke-width="2.0" />
<line x1="359.00" y1="1320.79" x2="363.50" y2="1320.79" stroke="#161616" stroke-width="2.0" />
<line x1="359.00" y1="1301.75" x2="363.50" y2="1301.75" stroke="#161616" stroke-width="2.0" />
<line x1="359.00" y1="1286.98" x2="363.50" y2="1286.98" stroke="#161616" stroke-width="2.0" />
<line x1="359.00" y1="1274.91" x2="363.50" y2="1274.91" stroke="#161616" stroke-width="2.0" />
<line x1="363.74" y1="1698.00" x2="363.74" y2="1703.00" stroke="#161616" stroke-width="2.0" />
<line x1="390.30" y1="1698.00" x2="390.30" y2="1708.00" stroke="#161616" stroke-width="2.0" />
<line x1="416.86" y1="1698.00" x2="416.86" y2="1703.00" stroke="#161616" stroke-width="2.0" />
<line x1="443.42" y1="1698.00" x2="443.42" y2="1708.00" stroke="#161616" stroke-width="2.0" />
<line x1="469.98" y1="1698.00" x2="469.98" y2="1703.00" stroke="#161616" stroke-width="2.0" />
<line x1="496.54" y1="1698.00" x2="496.54" y2="1708.00" stroke="#161616" stroke-width="2.0" />
<line x1="523.10" y1="1698.00" x2="523.10" y2="1703.00" stroke="#161616" stroke-width="2.0" />
<line x1="549.66" y1="1698.00" x2="549.66" y2="1708.00" stroke="#161616" stroke-width="2.0" />
<line x1="576.22" y1="1698.00" x2="576.22" y2="1703.00" stroke="#161616" stroke-width="2.0" />
<line x1="602.78" y1="1698.00" x2="602.78" y2="1708.00" stroke="#161616" stroke-width="2.0" />
<line x1="629.34" y1="1698.00" x2="629.34" y2="1703.00" stroke="#161616" stroke-width="2.0" />
<line x1="655.90" y1="1698.00" x2="655.90" y2="1708.00" stroke="#161616" stroke-width="2.0" />
<line x1="682.46" y1="1698.00" x2="682.46" y2="1703.00" stroke="#161616" stroke-width="2.0" />
<line x1="709.02" y1="1698.00" x2="709.02" y2="1708.00" stroke="#161616" stroke-width="2.0" />
<line x1="735.58" y1="1698.00" x2="735.58" y2="1703.00" stroke="#161616" stroke-width="2.0" />
<line x1="762.14" y1="1698.00" x2="762.14" y2="1708.00" stroke="#161616" stroke-width="2.0" />
<line x1="788.70" y1="1698.00" x2="788.70" y2="1703.00" stroke="#161616" stroke-width="2.0" />
<line x1="815.26" y1="1698.00" x2="815.26" y2="1708.00" stroke="#161616" stroke-width="2.0" />
<line x1="841.82" y1="1698.00" x2="841.82" y2="1703.00" stroke="#161616" stroke-width="2.0" />
<line x1="868.38" y1="1698.00" x2="868.38" y2="1708.00" stroke="#161616" stroke-width="2.0" />
<line x1="894.94" y1="1698.00" x2="894.94" y2="1703.00" stroke="#161616" stroke-width="2.0" />
<line x1="921.50" y1="1698.00" x2="921.50" y2="1708.00" stroke="#161616" stroke-width="2.0" />
<text x="390.30" y="1734.50" font-family='"Liberation Sans", sans-serif' font-size="27" font-weight="bold" text-anchor="middle" fill="#161616" >2</text>
<text x="443.42" y="1734.50" font-family='"Liberation Sans", sans-serif' font-size="27" font-weight="bold" text-anchor="middle" fill="#161616" >4</text>
<text x="496.54" y="1734.50" font-family='"Liberation Sans", sans-serif' font-size="27" font-weight="bold" text-anchor="middle" fill="#161616" >6</text>
<text x="549.66" y="1734.50" font-family='"Liberation Sans", sans-serif' font-size="27" font-weight="bold" text-anchor="middle" fill="#161616" >8</text>
<text x="602.78" y="1734.50" font-family='"Liberation Sans", sans-serif' font-size="27" font-weight="bold" text-anchor="middle" fill="#161616" >10</text>
<text x="655.90" y="1734.50" font-family='"Liberation Sans", sans-serif' font-size="27" font-weight="bold" text-anchor="middle" fill="#161616" >12</text>
<text x="709.02" y="1734.50" font-family='"Liberation Sans", sans-serif' font-size="27" font-weight="bold" text-anchor="middle" fill="#161616" >14</text>
<text x="762.14" y="1734.50" font-family='"Liberation Sans", sans-serif' font-size="27" font-weight="bold" text-anchor="middle" fill="#161616" >16</text>
<text x="815.26" y="1734.50" font-family='"Liberation Sans", sans-serif' font-size="27" font-weight="bold" text-anchor="middle" fill="#161616" >18</text>
<text x="868.38" y="1734.50" font-family='"Liberation Sans", sans-serif' font-size="27" font-weight="bold" text-anchor="middle" fill="#161616" >20</text>
<text x="921.50" y="1734.50" font-family='"Liberation Sans", sans-serif' font-size="27" font-weight="bold" text-anchor="middle" fill="#161616" >22</text>
<text x="304.5" y="1404.00" font-family='"Liberation Sans", sans-serif' font-weight="bold" font-size="28" fill="#161616">10<tspan font-size="16" dy="-15.5">-2</tspan></text>
<text x="304.5" y="1556.40" font-family='"Liberation Sans", sans-serif' font-weight="bold" font-size="28" fill="#161616">10<tspan font-size="16" dy="-15.5">-3</tspan></text>
<text x="304.5" y="1708.80" font-family='"Liberation Sans", sans-serif' font-weight="bold" font-size="28" fill="#161616">10<tspan font-size="16" dy="-15.5">-4</tspan></text>
<text transform="translate(280.8 1673.8) rotate(-90)" font-family='"Liberation Sans", sans-serif' font-weight="bold" font-size="36" fill="#161616">Figure of merit (<tspan font-weight="normal" font-size="31" dx="1">Ω</tspan><tspan font-size="20" dy="-19" dx="0.5">-1</tspan><tspan dy="19" dx="2.5">)</tspan></text>
<text x="493.40" y="1787.60" font-family='"Liberation Sans", sans-serif' font-size="34.4" font-weight="bold" text-anchor="start" fill="#161616" >Ag thickness (nm)</text>
<text x="387.30" y="1313.30" font-family='"Liberation Serif", serif' font-size="35" font-weight="bold" text-anchor="start" fill="#161616" >(d)</text>
</g>
</g>
</svg>
</body></html>
